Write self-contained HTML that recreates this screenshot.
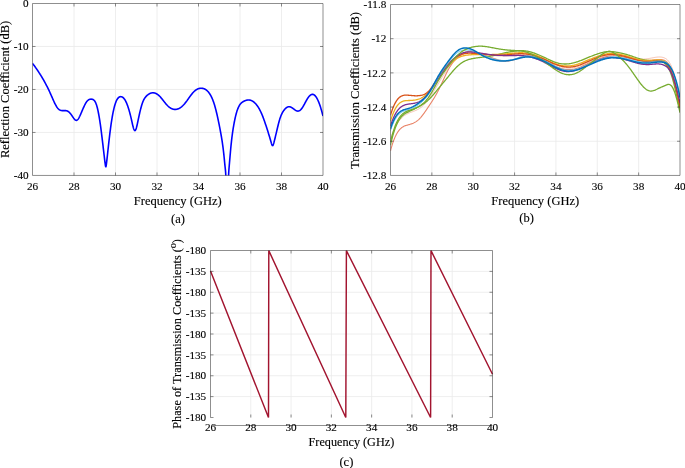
<!DOCTYPE html>
<html><head><meta charset="utf-8"><title>Figure</title>
<style>
html,body{margin:0;padding:0;background:#fff;}
svg{display:block;}
text{font-family:"Liberation Serif", "Times New Roman", serif;fill:#000;stroke:#000;stroke-width:0.12px;}
</style></head>
<body>
<svg width="685" height="468" viewBox="0 0 685 468">
<rect width="685" height="468" fill="#ffffff"/>
<line x1="74.00" y1="3.50" x2="74.00" y2="175.45" stroke="#eaeaea" stroke-width="0.8"/>
<line x1="115.50" y1="3.50" x2="115.50" y2="175.45" stroke="#eaeaea" stroke-width="0.8"/>
<line x1="157.00" y1="3.50" x2="157.00" y2="175.45" stroke="#eaeaea" stroke-width="0.8"/>
<line x1="198.50" y1="3.50" x2="198.50" y2="175.45" stroke="#eaeaea" stroke-width="0.8"/>
<line x1="240.00" y1="3.50" x2="240.00" y2="175.45" stroke="#eaeaea" stroke-width="0.8"/>
<line x1="281.50" y1="3.50" x2="281.50" y2="175.45" stroke="#eaeaea" stroke-width="0.8"/>
<line x1="32.50" y1="46.49" x2="323.00" y2="46.49" stroke="#eaeaea" stroke-width="0.8"/>
<line x1="32.50" y1="89.47" x2="323.00" y2="89.47" stroke="#eaeaea" stroke-width="0.8"/>
<line x1="32.50" y1="132.46" x2="323.00" y2="132.46" stroke="#eaeaea" stroke-width="0.8"/>
<clipPath id="ca"><rect x="32.5" y="3.5" width="290.5" height="171.95"/></clipPath>
<path d="M32.50,63.30 L32.74,63.62 L32.98,63.95 L33.23,64.27 L33.47,64.60 L33.71,64.92 L33.95,65.25 L34.20,65.58 L34.44,65.91 L34.68,66.25 L34.92,66.58 L35.17,66.92 L35.41,67.26 L35.65,67.60 L35.89,67.94 L36.13,68.29 L36.38,68.63 L36.62,68.98 L36.86,69.33 L37.10,69.68 L37.35,70.04 L37.59,70.40 L37.83,70.76 L38.07,71.12 L38.31,71.48 L38.56,71.85 L38.80,72.21 L39.04,72.58 L39.28,72.96 L39.53,73.33 L39.77,73.71 L40.01,74.09 L40.25,74.48 L40.50,74.86 L40.74,75.25 L40.98,75.64 L41.22,76.04 L41.46,76.43 L41.71,76.84 L41.95,77.24 L42.19,77.65 L42.43,78.05 L42.68,78.47 L42.92,78.88 L43.16,79.30 L43.40,79.72 L43.65,80.15 L43.89,80.58 L44.13,81.01 L44.37,81.45 L44.61,81.88 L44.86,82.33 L45.10,82.77 L45.34,83.22 L45.58,83.68 L45.83,84.13 L46.07,84.59 L46.31,85.06 L46.55,85.53 L46.79,86.00 L47.04,86.47 L47.28,86.95 L47.52,87.44 L47.76,87.93 L48.01,88.42 L48.25,88.91 L48.49,89.41 L48.73,89.92 L48.98,90.43 L49.22,90.94 L49.46,91.46 L49.70,91.98 L49.94,92.51 L50.19,93.04 L50.43,93.57 L50.67,94.11 L50.91,94.66 L51.16,95.20 L51.40,95.76 L51.64,96.31 L51.88,96.87 L52.13,97.42 L52.37,97.98 L52.61,98.53 L52.85,99.08 L53.09,99.63 L53.34,100.18 L53.58,100.72 L53.82,101.25 L54.06,101.77 L54.31,102.29 L54.55,102.80 L54.79,103.30 L55.03,103.79 L55.27,104.26 L55.52,104.73 L55.76,105.18 L56.00,105.61 L56.24,106.03 L56.49,106.44 L56.73,106.82 L56.97,107.19 L57.21,107.54 L57.46,107.87 L57.70,108.18 L57.94,108.46 L58.18,108.73 L58.42,108.97 L58.67,109.19 L58.91,109.39 L59.15,109.58 L59.39,109.74 L59.64,109.89 L59.88,110.02 L60.12,110.14 L60.36,110.24 L60.61,110.33 L60.85,110.40 L61.09,110.47 L61.33,110.52 L61.57,110.56 L61.82,110.59 L62.06,110.61 L62.30,110.63 L62.54,110.64 L62.79,110.64 L63.03,110.64 L63.27,110.63 L63.51,110.62 L63.75,110.61 L64.00,110.60 L64.24,110.59 L64.48,110.58 L64.72,110.58 L64.97,110.58 L65.21,110.59 L65.45,110.60 L65.69,110.62 L65.94,110.64 L66.18,110.68 L66.42,110.73 L66.66,110.79 L66.90,110.86 L67.15,110.95 L67.39,111.05 L67.63,111.17 L67.87,111.30 L68.12,111.45 L68.36,111.62 L68.60,111.80 L68.84,111.99 L69.09,112.21 L69.33,112.43 L69.57,112.67 L69.81,112.92 L70.05,113.19 L70.30,113.46 L70.54,113.75 L70.78,114.06 L71.02,114.37 L71.27,114.69 L71.51,115.03 L71.75,115.37 L71.99,115.73 L72.23,116.09 L72.48,116.45 L72.72,116.81 L72.96,117.18 L73.20,117.53 L73.45,117.88 L73.69,118.22 L73.93,118.54 L74.17,118.85 L74.42,119.13 L74.66,119.40 L74.90,119.63 L75.14,119.84 L75.38,120.02 L75.63,120.16 L75.87,120.27 L76.11,120.33 L76.35,120.35 L76.60,120.33 L76.84,120.25 L77.08,120.13 L77.32,119.96 L77.57,119.74 L77.81,119.49 L78.05,119.19 L78.29,118.86 L78.53,118.50 L78.78,118.10 L79.02,117.68 L79.26,117.22 L79.50,116.75 L79.75,116.25 L79.99,115.74 L80.23,115.21 L80.47,114.66 L80.71,114.11 L80.96,113.54 L81.20,112.97 L81.44,112.40 L81.68,111.83 L81.93,111.25 L82.17,110.68 L82.41,110.11 L82.65,109.54 L82.90,108.98 L83.14,108.42 L83.38,107.87 L83.62,107.33 L83.86,106.80 L84.11,106.28 L84.35,105.77 L84.59,105.27 L84.83,104.79 L85.08,104.32 L85.32,103.87 L85.56,103.43 L85.80,103.02 L86.05,102.62 L86.29,102.25 L86.53,101.89 L86.77,101.56 L87.01,101.26 L87.26,100.98 L87.50,100.72 L87.74,100.49 L87.98,100.28 L88.23,100.09 L88.47,99.92 L88.71,99.77 L88.95,99.64 L89.19,99.52 L89.44,99.43 L89.68,99.35 L89.92,99.28 L90.16,99.23 L90.41,99.20 L90.65,99.17 L90.89,99.16 L91.13,99.16 L91.38,99.17 L91.62,99.19 L91.86,99.22 L92.10,99.26 L92.34,99.31 L92.59,99.38 L92.83,99.46 L93.07,99.57 L93.31,99.70 L93.56,99.86 L93.80,100.05 L94.04,100.27 L94.28,100.52 L94.53,100.81 L94.77,101.15 L95.01,101.53 L95.25,101.95 L95.49,102.42 L95.74,102.95 L95.98,103.53 L96.22,104.16 L96.46,104.86 L96.71,105.62 L96.95,106.44 L97.19,107.33 L97.43,108.29 L97.67,109.30 L97.92,110.38 L98.16,111.53 L98.40,112.73 L98.64,114.00 L98.89,115.32 L99.13,116.70 L99.37,118.14 L99.61,119.64 L99.86,121.20 L100.10,122.81 L100.34,124.48 L100.58,126.20 L100.82,127.98 L101.07,129.81 L101.31,131.69 L101.55,133.61 L101.79,135.56 L102.04,137.55 L102.28,139.57 L102.52,141.60 L102.76,143.66 L103.01,145.72 L103.25,147.79 L103.49,149.86 L103.73,151.92 L103.97,153.98 L104.22,156.02 L104.46,158.05 L104.70,160.05 L104.94,162.04 L105.19,163.97 L105.43,165.62 L105.67,166.63 L105.91,166.69 L106.15,165.76 L106.40,164.14 L106.64,162.17 L106.88,160.08 L107.12,157.93 L107.37,155.72 L107.61,153.49 L107.85,151.25 L108.09,149.03 L108.34,146.81 L108.58,144.63 L108.82,142.46 L109.06,140.33 L109.30,138.24 L109.55,136.18 L109.79,134.17 L110.03,132.20 L110.27,130.29 L110.52,128.43 L110.76,126.63 L111.00,124.90 L111.24,123.23 L111.48,121.61 L111.73,120.06 L111.97,118.57 L112.21,117.13 L112.45,115.75 L112.70,114.43 L112.94,113.17 L113.18,111.96 L113.42,110.80 L113.67,109.70 L113.91,108.66 L114.15,107.66 L114.39,106.72 L114.63,105.83 L114.88,104.99 L115.12,104.20 L115.36,103.46 L115.60,102.77 L115.85,102.12 L116.09,101.52 L116.33,100.96 L116.57,100.44 L116.82,99.96 L117.06,99.52 L117.30,99.11 L117.54,98.75 L117.78,98.42 L118.03,98.12 L118.27,97.85 L118.51,97.62 L118.75,97.41 L119.00,97.23 L119.24,97.08 L119.48,96.96 L119.72,96.85 L119.96,96.77 L120.21,96.72 L120.45,96.68 L120.69,96.66 L120.93,96.66 L121.18,96.68 L121.42,96.73 L121.66,96.79 L121.90,96.87 L122.15,96.98 L122.39,97.11 L122.63,97.26 L122.87,97.43 L123.11,97.63 L123.36,97.84 L123.60,98.09 L123.84,98.35 L124.08,98.64 L124.33,98.95 L124.57,99.29 L124.81,99.65 L125.05,100.04 L125.30,100.46 L125.54,100.89 L125.78,101.36 L126.02,101.85 L126.26,102.37 L126.51,102.92 L126.75,103.49 L126.99,104.08 L127.23,104.71 L127.48,105.36 L127.72,106.03 L127.96,106.73 L128.20,107.46 L128.44,108.21 L128.69,108.99 L128.93,109.79 L129.17,110.62 L129.41,111.47 L129.66,112.35 L129.90,113.25 L130.14,114.18 L130.38,115.13 L130.63,116.11 L130.87,117.11 L131.11,118.14 L131.35,119.19 L131.59,120.26 L131.84,121.35 L132.08,122.44 L132.32,123.52 L132.56,124.56 L132.81,125.57 L133.05,126.52 L133.29,127.41 L133.53,128.22 L133.78,128.93 L134.02,129.53 L134.26,130.02 L134.50,130.36 L134.74,130.56 L134.99,130.60 L135.23,130.47 L135.47,130.18 L135.71,129.73 L135.96,129.15 L136.20,128.46 L136.44,127.65 L136.68,126.75 L136.92,125.77 L137.17,124.73 L137.41,123.64 L137.65,122.51 L137.89,121.35 L138.14,120.19 L138.38,119.02 L138.62,117.88 L138.86,116.75 L139.11,115.63 L139.35,114.54 L139.59,113.46 L139.83,112.41 L140.07,111.39 L140.32,110.39 L140.56,109.41 L140.80,108.47 L141.04,107.55 L141.29,106.67 L141.53,105.82 L141.77,105.01 L142.01,104.24 L142.26,103.50 L142.50,102.81 L142.74,102.15 L142.98,101.54 L143.22,100.97 L143.47,100.43 L143.71,99.93 L143.95,99.46 L144.19,99.02 L144.44,98.60 L144.68,98.22 L144.92,97.86 L145.16,97.52 L145.40,97.21 L145.65,96.91 L145.89,96.63 L146.13,96.37 L146.37,96.12 L146.62,95.88 L146.86,95.65 L147.10,95.43 L147.34,95.22 L147.59,95.01 L147.83,94.82 L148.07,94.63 L148.31,94.46 L148.55,94.29 L148.80,94.13 L149.04,93.98 L149.28,93.84 L149.52,93.71 L149.77,93.58 L150.01,93.47 L150.25,93.36 L150.49,93.27 L150.74,93.18 L150.98,93.10 L151.22,93.03 L151.46,92.97 L151.70,92.92 L151.95,92.88 L152.19,92.84 L152.43,92.82 L152.67,92.80 L152.92,92.80 L153.16,92.80 L153.40,92.81 L153.64,92.84 L153.88,92.87 L154.13,92.91 L154.37,92.95 L154.61,93.01 L154.85,93.08 L155.10,93.16 L155.34,93.24 L155.58,93.33 L155.82,93.44 L156.07,93.55 L156.31,93.67 L156.55,93.80 L156.79,93.94 L157.03,94.09 L157.28,94.24 L157.52,94.41 L157.76,94.58 L158.00,94.77 L158.25,94.96 L158.49,95.16 L158.73,95.37 L158.97,95.59 L159.22,95.81 L159.46,96.05 L159.70,96.29 L159.94,96.55 L160.18,96.81 L160.43,97.07 L160.67,97.35 L160.91,97.62 L161.15,97.91 L161.40,98.20 L161.64,98.49 L161.88,98.79 L162.12,99.09 L162.36,99.39 L162.61,99.69 L162.85,100.00 L163.09,100.31 L163.33,100.62 L163.58,100.93 L163.82,101.24 L164.06,101.55 L164.30,101.86 L164.55,102.16 L164.79,102.47 L165.03,102.77 L165.27,103.07 L165.51,103.37 L165.76,103.66 L166.00,103.95 L166.24,104.23 L166.48,104.51 L166.73,104.78 L166.97,105.04 L167.21,105.30 L167.45,105.55 L167.70,105.79 L167.94,106.03 L168.18,106.26 L168.42,106.48 L168.66,106.69 L168.91,106.89 L169.15,107.08 L169.39,107.27 L169.63,107.45 L169.88,107.62 L170.12,107.79 L170.36,107.94 L170.60,108.09 L170.84,108.23 L171.09,108.36 L171.33,108.49 L171.57,108.60 L171.81,108.71 L172.06,108.81 L172.30,108.91 L172.54,108.99 L172.78,109.07 L173.03,109.14 L173.27,109.20 L173.51,109.26 L173.75,109.31 L173.99,109.35 L174.24,109.38 L174.48,109.40 L174.72,109.42 L174.96,109.43 L175.21,109.43 L175.45,109.42 L175.69,109.41 L175.93,109.39 L176.18,109.36 L176.42,109.32 L176.66,109.28 L176.90,109.23 L177.14,109.17 L177.39,109.10 L177.63,109.03 L177.87,108.94 L178.11,108.85 L178.36,108.76 L178.60,108.65 L178.84,108.54 L179.08,108.42 L179.32,108.30 L179.57,108.16 L179.81,108.02 L180.05,107.87 L180.29,107.72 L180.54,107.55 L180.78,107.38 L181.02,107.21 L181.26,107.02 L181.51,106.83 L181.75,106.63 L181.99,106.42 L182.23,106.21 L182.47,105.99 L182.72,105.76 L182.96,105.52 L183.20,105.28 L183.44,105.03 L183.69,104.77 L183.93,104.51 L184.17,104.23 L184.41,103.95 L184.66,103.67 L184.90,103.38 L185.14,103.08 L185.38,102.77 L185.62,102.47 L185.87,102.15 L186.11,101.83 L186.35,101.51 L186.59,101.19 L186.84,100.86 L187.08,100.52 L187.32,100.19 L187.56,99.85 L187.80,99.52 L188.05,99.18 L188.29,98.84 L188.53,98.50 L188.77,98.16 L189.02,97.82 L189.26,97.48 L189.50,97.14 L189.74,96.81 L189.99,96.47 L190.23,96.14 L190.47,95.81 L190.71,95.49 L190.95,95.17 L191.20,94.85 L191.44,94.54 L191.68,94.23 L191.92,93.92 L192.17,93.63 L192.41,93.34 L192.65,93.05 L192.89,92.77 L193.14,92.50 L193.38,92.24 L193.62,91.98 L193.86,91.74 L194.10,91.50 L194.35,91.27 L194.59,91.05 L194.83,90.84 L195.07,90.64 L195.32,90.44 L195.56,90.26 L195.80,90.08 L196.04,89.91 L196.28,89.75 L196.53,89.60 L196.77,89.46 L197.01,89.32 L197.25,89.20 L197.50,89.08 L197.74,88.97 L197.98,88.86 L198.22,88.77 L198.47,88.68 L198.71,88.60 L198.95,88.53 L199.19,88.47 L199.43,88.41 L199.68,88.37 L199.92,88.32 L200.16,88.29 L200.40,88.27 L200.65,88.25 L200.89,88.24 L201.13,88.23 L201.37,88.24 L201.62,88.25 L201.86,88.26 L202.10,88.29 L202.34,88.32 L202.58,88.36 L202.83,88.40 L203.07,88.46 L203.31,88.52 L203.55,88.59 L203.80,88.67 L204.04,88.75 L204.28,88.85 L204.52,88.95 L204.76,89.06 L205.01,89.19 L205.25,89.32 L205.49,89.46 L205.73,89.62 L205.98,89.78 L206.22,89.96 L206.46,90.14 L206.70,90.34 L206.95,90.55 L207.19,90.77 L207.43,91.00 L207.67,91.25 L207.91,91.51 L208.16,91.78 L208.40,92.06 L208.64,92.36 L208.88,92.67 L209.13,93.00 L209.37,93.34 L209.61,93.69 L209.85,94.06 L210.10,94.45 L210.34,94.85 L210.58,95.27 L210.82,95.70 L211.06,96.16 L211.31,96.63 L211.55,97.13 L211.79,97.64 L212.03,98.17 L212.28,98.73 L212.52,99.31 L212.76,99.91 L213.00,100.53 L213.24,101.18 L213.49,101.85 L213.73,102.55 L213.97,103.27 L214.21,104.02 L214.46,104.79 L214.70,105.59 L214.94,106.43 L215.18,107.28 L215.43,108.17 L215.67,109.08 L215.91,110.01 L216.15,110.98 L216.39,111.96 L216.64,112.97 L216.88,114.00 L217.12,115.05 L217.36,116.13 L217.61,117.22 L217.85,118.34 L218.09,119.47 L218.33,120.63 L218.58,121.80 L218.82,122.99 L219.06,124.19 L219.30,125.41 L219.54,126.65 L219.79,127.90 L220.03,129.17 L220.27,130.45 L220.51,131.74 L220.76,133.05 L221.00,134.39 L221.24,135.76 L221.48,137.17 L221.72,138.63 L221.97,140.14 L222.21,141.71 L222.45,143.36 L222.69,145.07 L222.94,146.88 L223.18,148.77 L223.42,150.77 L223.66,152.88 L223.91,155.11 L224.15,157.47 L224.39,159.95 L224.63,162.46 L224.87,164.92 L225.12,167.25 L225.36,169.41 L225.60,171.95 L225.84,175.81 L226.09,181.63 L226.33,187.51 L226.57,190.42 L226.81,196.62 L227.06,226.32 L227.30,233.10 L227.54,200.10 L227.78,190.73 L228.02,188.46 L228.27,183.03 L228.51,176.79 L228.75,171.99 L228.99,168.51 L229.24,165.71 L229.48,162.99 L229.72,160.18 L229.96,157.33 L230.20,154.48 L230.45,151.70 L230.69,149.03 L230.93,146.50 L231.17,144.11 L231.42,141.84 L231.66,139.70 L231.90,137.67 L232.14,135.75 L232.39,133.92 L232.63,132.19 L232.87,130.54 L233.11,128.96 L233.35,127.46 L233.60,126.02 L233.84,124.63 L234.08,123.30 L234.32,122.02 L234.57,120.79 L234.81,119.61 L235.05,118.48 L235.29,117.40 L235.54,116.37 L235.78,115.38 L236.02,114.44 L236.26,113.54 L236.50,112.68 L236.75,111.87 L236.99,111.10 L237.23,110.37 L237.47,109.67 L237.72,109.02 L237.96,108.40 L238.20,107.82 L238.44,107.28 L238.68,106.76 L238.93,106.28 L239.17,105.83 L239.41,105.41 L239.65,105.02 L239.90,104.66 L240.14,104.32 L240.38,104.00 L240.62,103.71 L240.87,103.43 L241.11,103.18 L241.35,102.95 L241.59,102.73 L241.83,102.53 L242.08,102.34 L242.32,102.16 L242.56,102.00 L242.80,101.85 L243.05,101.70 L243.29,101.57 L243.53,101.44 L243.77,101.31 L244.02,101.19 L244.26,101.07 L244.50,100.96 L244.74,100.85 L244.98,100.75 L245.23,100.65 L245.47,100.56 L245.71,100.48 L245.95,100.40 L246.20,100.33 L246.44,100.26 L246.68,100.20 L246.92,100.14 L247.16,100.10 L247.41,100.06 L247.65,100.02 L247.89,100.00 L248.13,99.98 L248.38,99.97 L248.62,99.97 L248.86,99.98 L249.10,99.99 L249.35,100.02 L249.59,100.05 L249.83,100.09 L250.07,100.14 L250.31,100.20 L250.56,100.26 L250.80,100.34 L251.04,100.42 L251.28,100.52 L251.53,100.62 L251.77,100.73 L252.01,100.85 L252.25,100.98 L252.49,101.12 L252.74,101.27 L252.98,101.42 L253.22,101.59 L253.46,101.76 L253.71,101.95 L253.95,102.14 L254.19,102.34 L254.43,102.56 L254.68,102.78 L254.92,103.01 L255.16,103.25 L255.40,103.50 L255.64,103.76 L255.89,104.03 L256.13,104.31 L256.37,104.60 L256.61,104.90 L256.86,105.21 L257.10,105.53 L257.34,105.86 L257.58,106.21 L257.83,106.56 L258.07,106.93 L258.31,107.31 L258.55,107.70 L258.79,108.10 L259.04,108.51 L259.28,108.94 L259.52,109.38 L259.76,109.83 L260.01,110.29 L260.25,110.77 L260.49,111.26 L260.73,111.76 L260.97,112.28 L261.22,112.80 L261.46,113.35 L261.70,113.90 L261.94,114.47 L262.19,115.06 L262.43,115.66 L262.67,116.27 L262.91,116.89 L263.16,117.52 L263.40,118.16 L263.64,118.82 L263.88,119.48 L264.12,120.16 L264.37,120.84 L264.61,121.53 L264.85,122.23 L265.09,122.94 L265.34,123.66 L265.58,124.38 L265.82,125.11 L266.06,125.84 L266.31,126.58 L266.55,127.32 L266.79,128.07 L267.03,128.82 L267.27,129.58 L267.52,130.34 L267.76,131.10 L268.00,131.86 L268.24,132.63 L268.49,133.40 L268.73,134.18 L268.97,134.96 L269.21,135.75 L269.45,136.55 L269.70,137.35 L269.94,138.17 L270.18,138.99 L270.42,139.83 L270.67,140.67 L270.91,141.53 L271.15,142.39 L271.39,143.23 L271.64,144.00 L271.88,144.66 L272.12,145.17 L272.36,145.50 L272.60,145.60 L272.85,145.45 L273.09,145.07 L273.33,144.50 L273.57,143.78 L273.82,142.95 L274.06,142.05 L274.30,141.11 L274.54,140.15 L274.79,139.18 L275.03,138.19 L275.27,137.20 L275.51,136.19 L275.75,135.18 L276.00,134.16 L276.24,133.13 L276.48,132.10 L276.72,131.07 L276.97,130.04 L277.21,129.01 L277.45,127.99 L277.69,126.98 L277.93,125.98 L278.18,125.00 L278.42,124.04 L278.66,123.10 L278.90,122.18 L279.15,121.30 L279.39,120.45 L279.63,119.63 L279.87,118.85 L280.12,118.10 L280.36,117.39 L280.60,116.72 L280.84,116.08 L281.08,115.48 L281.33,114.90 L281.57,114.35 L281.81,113.83 L282.05,113.34 L282.30,112.88 L282.54,112.44 L282.78,112.02 L283.02,111.62 L283.27,111.24 L283.51,110.88 L283.75,110.54 L283.99,110.22 L284.23,109.90 L284.48,109.61 L284.72,109.32 L284.96,109.05 L285.20,108.79 L285.45,108.55 L285.69,108.31 L285.93,108.10 L286.17,107.89 L286.41,107.71 L286.66,107.53 L286.90,107.37 L287.14,107.23 L287.38,107.11 L287.63,107.00 L287.87,106.90 L288.11,106.83 L288.35,106.77 L288.60,106.73 L288.84,106.70 L289.08,106.70 L289.32,106.71 L289.56,106.74 L289.81,106.79 L290.05,106.85 L290.29,106.92 L290.53,107.01 L290.78,107.11 L291.02,107.22 L291.26,107.34 L291.50,107.48 L291.75,107.62 L291.99,107.77 L292.23,107.92 L292.47,108.09 L292.71,108.25 L292.96,108.43 L293.20,108.60 L293.44,108.78 L293.68,108.96 L293.93,109.14 L294.17,109.33 L294.41,109.50 L294.65,109.68 L294.89,109.85 L295.14,110.02 L295.38,110.18 L295.62,110.33 L295.86,110.47 L296.11,110.60 L296.35,110.72 L296.59,110.82 L296.83,110.91 L297.08,110.99 L297.32,111.04 L297.56,111.08 L297.80,111.10 L298.04,111.10 L298.29,111.07 L298.53,111.03 L298.77,110.96 L299.01,110.87 L299.26,110.76 L299.50,110.64 L299.74,110.49 L299.98,110.32 L300.23,110.13 L300.47,109.92 L300.71,109.70 L300.95,109.45 L301.19,109.18 L301.44,108.90 L301.68,108.59 L301.92,108.27 L302.16,107.93 L302.41,107.57 L302.65,107.20 L302.89,106.81 L303.13,106.41 L303.37,106.00 L303.62,105.57 L303.86,105.14 L304.10,104.70 L304.34,104.26 L304.59,103.81 L304.83,103.36 L305.07,102.91 L305.31,102.45 L305.56,102.00 L305.80,101.55 L306.04,101.11 L306.28,100.67 L306.52,100.24 L306.77,99.82 L307.01,99.40 L307.25,99.00 L307.49,98.61 L307.74,98.23 L307.98,97.87 L308.22,97.53 L308.46,97.20 L308.71,96.88 L308.95,96.58 L309.19,96.30 L309.43,96.04 L309.67,95.79 L309.92,95.56 L310.16,95.35 L310.40,95.16 L310.64,94.98 L310.89,94.83 L311.13,94.70 L311.37,94.59 L311.61,94.49 L311.85,94.43 L312.10,94.38 L312.34,94.35 L312.58,94.35 L312.82,94.37 L313.07,94.41 L313.31,94.48 L313.55,94.57 L313.79,94.69 L314.04,94.83 L314.28,94.99 L314.52,95.18 L314.76,95.39 L315.00,95.62 L315.25,95.88 L315.49,96.16 L315.73,96.47 L315.97,96.79 L316.22,97.14 L316.46,97.52 L316.70,97.91 L316.94,98.33 L317.19,98.78 L317.43,99.24 L317.67,99.73 L317.91,100.24 L318.15,100.77 L318.40,101.33 L318.64,101.91 L318.88,102.51 L319.12,103.13 L319.37,103.78 L319.61,104.44 L319.85,105.13 L320.09,105.85 L320.33,106.58 L320.58,107.34 L320.82,108.12 L321.06,108.92 L321.30,109.74 L321.55,110.58 L321.79,111.45 L322.03,112.34 L322.27,113.24 L322.52,114.17 L322.76,115.13 L323.00,116.10" stroke="#0000ff" stroke-width="1.6" fill="none" stroke-linejoin="round" clip-path="url(#ca)"/>
<path d="M32.50,175.45 L32.50,3.50 L323.00,3.50 L323.00,175.45" stroke="#262626" stroke-width="0.52" fill="none"/>
<line x1="32.50" y1="175.45" x2="323.00" y2="175.45" stroke="#262626" stroke-width="0.52" fill="none"/>
<line x1="74.00" y1="175.45" x2="74.00" y2="172.45" stroke="#262626" stroke-width="0.52" fill="none"/>
<line x1="74.00" y1="3.50" x2="74.00" y2="6.50" stroke="#262626" stroke-width="0.52" fill="none"/>
<line x1="115.50" y1="175.45" x2="115.50" y2="172.45" stroke="#262626" stroke-width="0.52" fill="none"/>
<line x1="115.50" y1="3.50" x2="115.50" y2="6.50" stroke="#262626" stroke-width="0.52" fill="none"/>
<line x1="157.00" y1="175.45" x2="157.00" y2="172.45" stroke="#262626" stroke-width="0.52" fill="none"/>
<line x1="157.00" y1="3.50" x2="157.00" y2="6.50" stroke="#262626" stroke-width="0.52" fill="none"/>
<line x1="198.50" y1="175.45" x2="198.50" y2="172.45" stroke="#262626" stroke-width="0.52" fill="none"/>
<line x1="198.50" y1="3.50" x2="198.50" y2="6.50" stroke="#262626" stroke-width="0.52" fill="none"/>
<line x1="240.00" y1="175.45" x2="240.00" y2="172.45" stroke="#262626" stroke-width="0.52" fill="none"/>
<line x1="240.00" y1="3.50" x2="240.00" y2="6.50" stroke="#262626" stroke-width="0.52" fill="none"/>
<line x1="281.50" y1="175.45" x2="281.50" y2="172.45" stroke="#262626" stroke-width="0.52" fill="none"/>
<line x1="281.50" y1="3.50" x2="281.50" y2="6.50" stroke="#262626" stroke-width="0.52" fill="none"/>
<line x1="32.50" y1="46.49" x2="35.50" y2="46.49" stroke="#262626" stroke-width="0.52" fill="none"/>
<line x1="323.00" y1="46.49" x2="320.00" y2="46.49" stroke="#262626" stroke-width="0.52" fill="none"/>
<line x1="32.50" y1="89.47" x2="35.50" y2="89.47" stroke="#262626" stroke-width="0.52" fill="none"/>
<line x1="323.00" y1="89.47" x2="320.00" y2="89.47" stroke="#262626" stroke-width="0.52" fill="none"/>
<line x1="32.50" y1="132.46" x2="35.50" y2="132.46" stroke="#262626" stroke-width="0.52" fill="none"/>
<line x1="323.00" y1="132.46" x2="320.00" y2="132.46" stroke="#262626" stroke-width="0.52" fill="none"/>
<text x="32.50" y="189.50" font-size="11.2" text-anchor="middle">26</text>
<text x="74.00" y="189.50" font-size="11.2" text-anchor="middle">28</text>
<text x="115.50" y="189.50" font-size="11.2" text-anchor="middle">30</text>
<text x="157.00" y="189.50" font-size="11.2" text-anchor="middle">32</text>
<text x="198.50" y="189.50" font-size="11.2" text-anchor="middle">34</text>
<text x="240.00" y="189.50" font-size="11.2" text-anchor="middle">36</text>
<text x="281.50" y="189.50" font-size="11.2" text-anchor="middle">38</text>
<text x="323.00" y="189.50" font-size="11.2" text-anchor="middle">40</text>
<text x="28.60" y="7.20" font-size="11.2" text-anchor="end">0</text>
<text x="28.60" y="50.19" font-size="11.2" text-anchor="end">-10</text>
<text x="28.60" y="93.17" font-size="11.2" text-anchor="end">-20</text>
<text x="28.60" y="136.16" font-size="11.2" text-anchor="end">-30</text>
<text x="28.60" y="179.15" font-size="11.2" text-anchor="end">-40</text>
<text x="177.75" y="204.90" font-size="12.5" text-anchor="middle">Frequency (GHz)</text>
<text x="178.00" y="222.60" font-size="12.5" text-anchor="middle">(a)</text>
<text x="9.00" y="89.47" font-size="12.5" text-anchor="middle" transform="rotate(-90 9.00 89.47)">Reflection Coefficient (dB)</text>
<line x1="431.86" y1="4.50" x2="431.86" y2="175.45" stroke="#eaeaea" stroke-width="0.8"/>
<line x1="473.21" y1="4.50" x2="473.21" y2="175.45" stroke="#eaeaea" stroke-width="0.8"/>
<line x1="514.57" y1="4.50" x2="514.57" y2="175.45" stroke="#eaeaea" stroke-width="0.8"/>
<line x1="555.93" y1="4.50" x2="555.93" y2="175.45" stroke="#eaeaea" stroke-width="0.8"/>
<line x1="597.29" y1="4.50" x2="597.29" y2="175.45" stroke="#eaeaea" stroke-width="0.8"/>
<line x1="638.64" y1="4.50" x2="638.64" y2="175.45" stroke="#eaeaea" stroke-width="0.8"/>
<line x1="390.50" y1="38.69" x2="680.00" y2="38.69" stroke="#eaeaea" stroke-width="0.8"/>
<line x1="390.50" y1="72.88" x2="680.00" y2="72.88" stroke="#eaeaea" stroke-width="0.8"/>
<line x1="390.50" y1="107.07" x2="680.00" y2="107.07" stroke="#eaeaea" stroke-width="0.8"/>
<line x1="390.50" y1="141.26" x2="680.00" y2="141.26" stroke="#eaeaea" stroke-width="0.8"/>
<clipPath id="cb"><rect x="390.5" y="4.5" width="289.5" height="170.95"/></clipPath>
<path d="M390.50,150.80 L391.08,148.63 L391.66,146.59 L392.24,144.68 L392.82,142.90 L393.40,141.23 L393.98,139.68 L394.56,138.23 L395.14,136.89 L395.72,135.66 L396.30,134.51 L396.88,133.46 L397.46,132.50 L398.04,131.62 L398.62,130.81 L399.20,130.08 L399.78,129.42 L400.36,128.83 L400.94,128.29 L401.52,127.81 L402.10,127.39 L402.68,127.01 L403.26,126.67 L403.84,126.36 L404.42,126.10 L405.00,125.86 L405.58,125.64 L406.16,125.45 L406.74,125.27 L407.32,125.10 L407.90,124.94 L408.48,124.78 L409.07,124.61 L409.65,124.44 L410.23,124.26 L410.81,124.07 L411.39,123.87 L411.97,123.66 L412.55,123.42 L413.13,123.17 L413.71,122.90 L414.29,122.61 L414.87,122.30 L415.45,121.96 L416.03,121.59 L416.61,121.20 L417.19,120.78 L417.77,120.32 L418.35,119.83 L418.93,119.30 L419.51,118.74 L420.09,118.14 L420.67,117.51 L421.25,116.84 L421.83,116.14 L422.41,115.41 L422.99,114.65 L423.57,113.88 L424.15,113.08 L424.73,112.26 L425.31,111.43 L425.89,110.58 L426.47,109.73 L427.05,108.86 L427.63,107.99 L428.21,107.12 L428.79,106.25 L429.37,105.38 L429.95,104.50 L430.53,103.63 L431.11,102.75 L431.69,101.86 L432.27,100.96 L432.85,100.05 L433.43,99.13 L434.01,98.19 L434.59,97.24 L435.17,96.26 L435.75,95.26 L436.33,94.23 L436.91,93.18 L437.49,92.09 L438.07,90.98 L438.65,89.83 L439.23,88.65 L439.81,87.44 L440.39,86.22 L440.97,84.98 L441.55,83.72 L442.13,82.46 L442.71,81.19 L443.29,79.93 L443.87,78.67 L444.45,77.42 L445.04,76.18 L445.62,74.96 L446.20,73.76 L446.78,72.59 L447.36,71.46 L447.94,70.35 L448.52,69.29 L449.10,68.27 L449.68,67.29 L450.26,66.36 L450.84,65.46 L451.42,64.60 L452.00,63.77 L452.58,62.98 L453.16,62.23 L453.74,61.50 L454.32,60.81 L454.90,60.15 L455.48,59.51 L456.06,58.90 L456.64,58.31 L457.22,57.75 L457.80,57.21 L458.38,56.70 L458.96,56.20 L459.54,55.73 L460.12,55.27 L460.70,54.84 L461.28,54.44 L461.86,54.05 L462.44,53.69 L463.02,53.35 L463.60,53.04 L464.18,52.75 L464.76,52.48 L465.34,52.24 L465.92,52.02 L466.50,51.83 L467.08,51.66 L467.66,51.52 L468.24,51.40 L468.82,51.30 L469.40,51.23 L469.98,51.18 L470.56,51.15 L471.14,51.15 L471.72,51.17 L472.30,51.21 L472.88,51.27 L473.46,51.35 L474.04,51.46 L474.62,51.58 L475.20,51.73 L475.78,51.89 L476.36,52.06 L476.94,52.25 L477.52,52.45 L478.10,52.66 L478.68,52.88 L479.26,53.11 L479.84,53.34 L480.42,53.57 L481.01,53.81 L481.59,54.04 L482.17,54.27 L482.75,54.50 L483.33,54.72 L483.91,54.95 L484.49,55.17 L485.07,55.39 L485.65,55.60 L486.23,55.82 L486.81,56.03 L487.39,56.24 L487.97,56.45 L488.55,56.66 L489.13,56.86 L489.71,57.07 L490.29,57.27 L490.87,57.47 L491.45,57.67 L492.03,57.87 L492.61,58.07 L493.19,58.26 L493.77,58.46 L494.35,58.65 L494.93,58.85 L495.51,59.04 L496.09,59.22 L496.67,59.40 L497.25,59.58 L497.83,59.75 L498.41,59.92 L498.99,60.08 L499.57,60.22 L500.15,60.36 L500.73,60.49 L501.31,60.61 L501.89,60.71 L502.47,60.81 L503.05,60.89 L503.63,60.95 L504.21,61.00 L504.79,61.03 L505.37,61.05 L505.95,61.05 L506.53,61.03 L507.11,61.00 L507.69,60.96 L508.27,60.90 L508.85,60.83 L509.43,60.75 L510.01,60.65 L510.59,60.54 L511.17,60.42 L511.75,60.29 L512.33,60.15 L512.91,59.99 L513.49,59.83 L514.07,59.66 L514.65,59.47 L515.23,59.28 L515.81,59.08 L516.39,58.88 L516.97,58.67 L517.56,58.46 L518.14,58.25 L518.72,58.04 L519.30,57.83 L519.88,57.62 L520.46,57.42 L521.04,57.22 L521.62,57.03 L522.20,56.85 L522.78,56.69 L523.36,56.53 L523.94,56.39 L524.52,56.26 L525.10,56.15 L525.68,56.06 L526.26,55.99 L526.84,55.94 L527.42,55.91 L528.00,55.89 L528.58,55.90 L529.16,55.92 L529.74,55.96 L530.32,56.02 L530.90,56.09 L531.48,56.17 L532.06,56.27 L532.64,56.38 L533.22,56.50 L533.80,56.63 L534.38,56.77 L534.96,56.92 L535.54,57.08 L536.12,57.24 L536.70,57.42 L537.28,57.60 L537.86,57.78 L538.44,57.98 L539.02,58.18 L539.60,58.39 L540.18,58.61 L540.76,58.83 L541.34,59.06 L541.92,59.30 L542.50,59.55 L543.08,59.81 L543.66,60.07 L544.24,60.34 L544.82,60.62 L545.40,60.91 L545.98,61.20 L546.56,61.50 L547.14,61.81 L547.72,62.12 L548.30,62.44 L548.88,62.76 L549.46,63.08 L550.04,63.41 L550.62,63.73 L551.20,64.05 L551.78,64.37 L552.36,64.69 L552.94,65.00 L553.53,65.31 L554.11,65.61 L554.69,65.90 L555.27,66.19 L555.85,66.46 L556.43,66.73 L557.01,66.98 L557.59,67.23 L558.17,67.46 L558.75,67.68 L559.33,67.89 L559.91,68.09 L560.49,68.28 L561.07,68.45 L561.65,68.62 L562.23,68.77 L562.81,68.91 L563.39,69.04 L563.97,69.16 L564.55,69.26 L565.13,69.36 L565.71,69.44 L566.29,69.50 L566.87,69.56 L567.45,69.60 L568.03,69.63 L568.61,69.64 L569.19,69.65 L569.77,69.63 L570.35,69.61 L570.93,69.57 L571.51,69.52 L572.09,69.46 L572.67,69.38 L573.25,69.29 L573.83,69.19 L574.41,69.07 L574.99,68.94 L575.57,68.79 L576.15,68.63 L576.73,68.46 L577.31,68.27 L577.89,68.07 L578.47,67.86 L579.05,67.64 L579.63,67.41 L580.21,67.17 L580.79,66.91 L581.37,66.66 L581.95,66.39 L582.53,66.12 L583.11,65.85 L583.69,65.57 L584.27,65.29 L584.85,65.01 L585.43,64.73 L586.01,64.45 L586.59,64.17 L587.17,63.89 L587.75,63.62 L588.33,63.34 L588.91,63.07 L589.49,62.81 L590.08,62.54 L590.66,62.28 L591.24,62.02 L591.82,61.77 L592.40,61.51 L592.98,61.26 L593.56,61.02 L594.14,60.77 L594.72,60.53 L595.30,60.29 L595.88,60.06 L596.46,59.83 L597.04,59.60 L597.62,59.37 L598.20,59.15 L598.78,58.93 L599.36,58.72 L599.94,58.51 L600.52,58.30 L601.10,58.10 L601.68,57.91 L602.26,57.72 L602.84,57.54 L603.42,57.36 L604.00,57.19 L604.58,57.03 L605.16,56.88 L605.74,56.74 L606.32,56.60 L606.90,56.47 L607.48,56.36 L608.06,56.25 L608.64,56.15 L609.22,56.06 L609.80,55.99 L610.38,55.92 L610.96,55.87 L611.54,55.82 L612.12,55.79 L612.70,55.77 L613.28,55.76 L613.86,55.75 L614.44,55.76 L615.02,55.78 L615.60,55.80 L616.18,55.84 L616.76,55.88 L617.34,55.93 L617.92,56.00 L618.50,56.06 L619.08,56.14 L619.66,56.23 L620.24,56.32 L620.82,56.41 L621.40,56.52 L621.98,56.63 L622.56,56.74 L623.14,56.86 L623.72,56.98 L624.30,57.10 L624.88,57.23 L625.46,57.36 L626.05,57.49 L626.63,57.62 L627.21,57.75 L627.79,57.88 L628.37,58.01 L628.95,58.14 L629.53,58.27 L630.11,58.40 L630.69,58.53 L631.27,58.65 L631.85,58.78 L632.43,58.90 L633.01,59.02 L633.59,59.13 L634.17,59.24 L634.75,59.35 L635.33,59.46 L635.91,59.56 L636.49,59.66 L637.07,59.76 L637.65,59.85 L638.23,59.94 L638.81,60.02 L639.39,60.10 L639.97,60.18 L640.55,60.24 L641.13,60.31 L641.71,60.37 L642.29,60.42 L642.87,60.46 L643.45,60.50 L644.03,60.53 L644.61,60.56 L645.19,60.58 L645.77,60.59 L646.35,60.59 L646.93,60.59 L647.51,60.57 L648.09,60.55 L648.67,60.52 L649.25,60.48 L649.83,60.43 L650.41,60.38 L650.99,60.32 L651.57,60.25 L652.15,60.18 L652.73,60.11 L653.31,60.03 L653.89,59.96 L654.47,59.89 L655.05,59.82 L655.63,59.75 L656.21,59.69 L656.79,59.64 L657.37,59.59 L657.95,59.55 L658.53,59.52 L659.11,59.50 L659.69,59.50 L660.27,59.51 L660.85,59.54 L661.43,59.59 L662.02,59.67 L662.60,59.79 L663.18,59.94 L663.76,60.13 L664.34,60.36 L664.92,60.65 L665.50,60.98 L666.08,61.38 L666.66,61.84 L667.24,62.37 L667.82,62.99 L668.40,63.70 L668.98,64.51 L669.56,65.43 L670.14,66.47 L670.72,67.63 L671.30,68.94 L671.88,70.39 L672.46,71.99 L673.04,73.73 L673.62,75.60 L674.20,77.61 L674.78,79.73 L675.36,81.97 L675.94,84.31 L676.52,86.75 L677.10,89.27 L677.68,91.88 L678.26,94.57 L678.84,97.32 L679.42,100.14 L680.00,103.00" stroke="#e98468" stroke-width="1.1" fill="none" clip-path="url(#cb)"/>
<path d="M390.50,139.00 L391.08,137.30 L391.66,135.68 L392.24,134.13 L392.82,132.66 L393.40,131.26 L393.98,129.93 L394.56,128.67 L395.14,127.47 L395.72,126.34 L396.30,125.27 L396.88,124.26 L397.46,123.31 L398.04,122.41 L398.62,121.57 L399.20,120.77 L399.78,120.03 L400.36,119.33 L400.94,118.68 L401.52,118.07 L402.10,117.50 L402.68,116.96 L403.26,116.47 L403.84,116.01 L404.42,115.58 L405.00,115.17 L405.58,114.80 L406.16,114.45 L406.74,114.13 L407.32,113.83 L407.90,113.54 L408.48,113.27 L409.07,113.02 L409.65,112.78 L410.23,112.55 L410.81,112.33 L411.39,112.11 L411.97,111.90 L412.55,111.69 L413.13,111.47 L413.71,111.26 L414.29,111.04 L414.87,110.81 L415.45,110.57 L416.03,110.33 L416.61,110.06 L417.19,109.78 L417.77,109.49 L418.35,109.17 L418.93,108.83 L419.51,108.46 L420.09,108.07 L420.67,107.65 L421.25,107.20 L421.83,106.73 L422.41,106.23 L422.99,105.70 L423.57,105.15 L424.15,104.57 L424.73,103.96 L425.31,103.32 L425.89,102.66 L426.47,101.97 L427.05,101.26 L427.63,100.52 L428.21,99.75 L428.79,98.95 L429.37,98.13 L429.95,97.28 L430.53,96.41 L431.11,95.52 L431.69,94.61 L432.27,93.69 L432.85,92.75 L433.43,91.80 L434.01,90.83 L434.59,89.86 L435.17,88.89 L435.75,87.90 L436.33,86.92 L436.91,85.94 L437.49,84.96 L438.07,83.98 L438.65,83.01 L439.23,82.04 L439.81,81.08 L440.39,80.13 L440.97,79.19 L441.55,78.25 L442.13,77.33 L442.71,76.41 L443.29,75.50 L443.87,74.60 L444.45,73.72 L445.04,72.84 L445.62,71.98 L446.20,71.12 L446.78,70.28 L447.36,69.46 L447.94,68.64 L448.52,67.84 L449.10,67.05 L449.68,66.28 L450.26,65.53 L450.84,64.79 L451.42,64.07 L452.00,63.36 L452.58,62.67 L453.16,62.01 L453.74,61.36 L454.32,60.73 L454.90,60.12 L455.48,59.54 L456.06,58.97 L456.64,58.43 L457.22,57.92 L457.80,57.42 L458.38,56.95 L458.96,56.51 L459.54,56.09 L460.12,55.70 L460.70,55.32 L461.28,54.98 L461.86,54.65 L462.44,54.35 L463.02,54.07 L463.60,53.82 L464.18,53.58 L464.76,53.37 L465.34,53.18 L465.92,53.01 L466.50,52.87 L467.08,52.74 L467.66,52.64 L468.24,52.55 L468.82,52.48 L469.40,52.43 L469.98,52.39 L470.56,52.37 L471.14,52.36 L471.72,52.37 L472.30,52.38 L472.88,52.41 L473.46,52.44 L474.04,52.48 L474.62,52.53 L475.20,52.59 L475.78,52.65 L476.36,52.72 L476.94,52.80 L477.52,52.87 L478.10,52.96 L478.68,53.04 L479.26,53.13 L479.84,53.23 L480.42,53.32 L481.01,53.42 L481.59,53.52 L482.17,53.62 L482.75,53.72 L483.33,53.82 L483.91,53.92 L484.49,54.02 L485.07,54.12 L485.65,54.23 L486.23,54.33 L486.81,54.43 L487.39,54.53 L487.97,54.62 L488.55,54.72 L489.13,54.81 L489.71,54.91 L490.29,55.00 L490.87,55.09 L491.45,55.17 L492.03,55.26 L492.61,55.34 L493.19,55.41 L493.77,55.48 L494.35,55.55 L494.93,55.62 L495.51,55.68 L496.09,55.74 L496.67,55.79 L497.25,55.84 L497.83,55.88 L498.41,55.92 L498.99,55.95 L499.57,55.98 L500.15,56.00 L500.73,56.02 L501.31,56.03 L501.89,56.04 L502.47,56.04 L503.05,56.03 L503.63,56.02 L504.21,56.00 L504.79,55.98 L505.37,55.94 L505.95,55.91 L506.53,55.86 L507.11,55.82 L507.69,55.76 L508.27,55.71 L508.85,55.65 L509.43,55.59 L510.01,55.53 L510.59,55.46 L511.17,55.39 L511.75,55.32 L512.33,55.26 L512.91,55.19 L513.49,55.12 L514.07,55.06 L514.65,54.99 L515.23,54.93 L515.81,54.87 L516.39,54.81 L516.97,54.76 L517.56,54.70 L518.14,54.66 L518.72,54.61 L519.30,54.57 L519.88,54.53 L520.46,54.50 L521.04,54.48 L521.62,54.46 L522.20,54.44 L522.78,54.43 L523.36,54.43 L523.94,54.43 L524.52,54.44 L525.10,54.45 L525.68,54.48 L526.26,54.51 L526.84,54.54 L527.42,54.59 L528.00,54.64 L528.58,54.71 L529.16,54.78 L529.74,54.85 L530.32,54.94 L530.90,55.03 L531.48,55.13 L532.06,55.24 L532.64,55.36 L533.22,55.49 L533.80,55.62 L534.38,55.77 L534.96,55.92 L535.54,56.08 L536.12,56.25 L536.70,56.43 L537.28,56.61 L537.86,56.81 L538.44,57.01 L539.02,57.21 L539.60,57.43 L540.18,57.65 L540.76,57.88 L541.34,58.11 L541.92,58.35 L542.50,58.60 L543.08,58.85 L543.66,59.11 L544.24,59.37 L544.82,59.64 L545.40,59.91 L545.98,60.19 L546.56,60.47 L547.14,60.75 L547.72,61.04 L548.30,61.33 L548.88,61.61 L549.46,61.90 L550.04,62.19 L550.62,62.48 L551.20,62.77 L551.78,63.06 L552.36,63.34 L552.94,63.62 L553.53,63.90 L554.11,64.18 L554.69,64.44 L555.27,64.71 L555.85,64.96 L556.43,65.21 L557.01,65.46 L557.59,65.69 L558.17,65.92 L558.75,66.14 L559.33,66.35 L559.91,66.55 L560.49,66.74 L561.07,66.92 L561.65,67.09 L562.23,67.24 L562.81,67.39 L563.39,67.52 L563.97,67.65 L564.55,67.76 L565.13,67.85 L565.71,67.93 L566.29,68.00 L566.87,68.06 L567.45,68.09 L568.03,68.12 L568.61,68.13 L569.19,68.13 L569.77,68.11 L570.35,68.08 L570.93,68.04 L571.51,67.99 L572.09,67.92 L572.67,67.84 L573.25,67.75 L573.83,67.65 L574.41,67.53 L574.99,67.41 L575.57,67.27 L576.15,67.12 L576.73,66.97 L577.31,66.80 L577.89,66.62 L578.47,66.43 L579.05,66.24 L579.63,66.03 L580.21,65.82 L580.79,65.60 L581.37,65.38 L581.95,65.15 L582.53,64.91 L583.11,64.67 L583.69,64.43 L584.27,64.18 L584.85,63.93 L585.43,63.67 L586.01,63.42 L586.59,63.16 L587.17,62.90 L587.75,62.64 L588.33,62.38 L588.91,62.12 L589.49,61.86 L590.08,61.60 L590.66,61.34 L591.24,61.08 L591.82,60.82 L592.40,60.56 L592.98,60.31 L593.56,60.06 L594.14,59.81 L594.72,59.56 L595.30,59.31 L595.88,59.07 L596.46,58.83 L597.04,58.60 L597.62,58.37 L598.20,58.14 L598.78,57.92 L599.36,57.70 L599.94,57.49 L600.52,57.28 L601.10,57.08 L601.68,56.89 L602.26,56.70 L602.84,56.52 L603.42,56.34 L604.00,56.18 L604.58,56.02 L605.16,55.86 L605.74,55.72 L606.32,55.59 L606.90,55.46 L607.48,55.35 L608.06,55.24 L608.64,55.15 L609.22,55.06 L609.80,54.99 L610.38,54.92 L610.96,54.87 L611.54,54.83 L612.12,54.80 L612.70,54.77 L613.28,54.76 L613.86,54.76 L614.44,54.77 L615.02,54.78 L615.60,54.81 L616.18,54.84 L616.76,54.89 L617.34,54.94 L617.92,55.00 L618.50,55.06 L619.08,55.14 L619.66,55.22 L620.24,55.31 L620.82,55.40 L621.40,55.50 L621.98,55.61 L622.56,55.72 L623.14,55.83 L623.72,55.95 L624.30,56.08 L624.88,56.20 L625.46,56.33 L626.05,56.47 L626.63,56.60 L627.21,56.74 L627.79,56.88 L628.37,57.01 L628.95,57.15 L629.53,57.29 L630.11,57.43 L630.69,57.57 L631.27,57.71 L631.85,57.84 L632.43,57.97 L633.01,58.10 L633.59,58.22 L634.17,58.33 L634.75,58.45 L635.33,58.55 L635.91,58.65 L636.49,58.74 L637.07,58.82 L637.65,58.90 L638.23,58.96 L638.81,59.01 L639.39,59.06 L639.97,59.09 L640.55,59.12 L641.13,59.13 L641.71,59.14 L642.29,59.13 L642.87,59.12 L643.45,59.10 L644.03,59.07 L644.61,59.03 L645.19,58.98 L645.77,58.93 L646.35,58.87 L646.93,58.80 L647.51,58.72 L648.09,58.64 L648.67,58.55 L649.25,58.45 L649.83,58.35 L650.41,58.25 L650.99,58.14 L651.57,58.03 L652.15,57.92 L652.73,57.81 L653.31,57.70 L653.89,57.59 L654.47,57.49 L655.05,57.40 L655.63,57.31 L656.21,57.23 L656.79,57.16 L657.37,57.10 L657.95,57.05 L658.53,57.02 L659.11,57.00 L659.69,57.00 L660.27,57.02 L660.85,57.06 L661.43,57.12 L662.02,57.21 L662.60,57.33 L663.18,57.48 L663.76,57.67 L664.34,57.90 L664.92,58.17 L665.50,58.48 L666.08,58.85 L666.66,59.27 L667.24,59.76 L667.82,60.33 L668.40,60.98 L668.98,61.74 L669.56,62.61 L670.14,63.59 L670.72,64.71 L671.30,65.97 L671.88,67.38 L672.46,68.94 L673.04,70.66 L673.62,72.52 L674.20,74.52 L674.78,76.66 L675.36,78.93 L675.94,81.31 L676.52,83.82 L677.10,86.44 L677.68,89.16 L678.26,91.98 L678.84,94.90 L679.42,97.91 L680.00,101.00" stroke="#f0a890" stroke-width="0.7" fill="none" clip-path="url(#cb)"/>
<path d="M390.50,145.00 L391.08,142.45 L391.66,140.04 L392.24,137.78 L392.82,135.64 L393.40,133.64 L393.98,131.76 L394.56,130.01 L395.14,128.36 L395.72,126.83 L396.30,125.41 L396.88,124.09 L397.46,122.86 L398.04,121.73 L398.62,120.68 L399.20,119.72 L399.78,118.83 L400.36,118.02 L400.94,117.28 L401.52,116.60 L402.10,115.98 L402.68,115.42 L403.26,114.91 L403.84,114.44 L404.42,114.02 L405.00,113.63 L405.58,113.27 L406.16,112.94 L406.74,112.63 L407.32,112.34 L407.90,112.06 L408.48,111.79 L409.07,111.52 L409.65,111.25 L410.23,110.98 L410.81,110.71 L411.39,110.44 L411.97,110.17 L412.55,109.89 L413.13,109.61 L413.71,109.32 L414.29,109.04 L414.87,108.75 L415.45,108.45 L416.03,108.15 L416.61,107.85 L417.19,107.54 L417.77,107.23 L418.35,106.92 L418.93,106.59 L419.51,106.27 L420.09,105.93 L420.67,105.59 L421.25,105.25 L421.83,104.89 L422.41,104.53 L422.99,104.15 L423.57,103.76 L424.15,103.36 L424.73,102.94 L425.31,102.51 L425.89,102.07 L426.47,101.61 L427.05,101.13 L427.63,100.63 L428.21,100.11 L428.79,99.57 L429.37,99.01 L429.95,98.42 L430.53,97.82 L431.11,97.20 L431.69,96.57 L432.27,95.92 L432.85,95.26 L433.43,94.59 L434.01,93.91 L434.59,93.22 L435.17,92.52 L435.75,91.82 L436.33,91.11 L436.91,90.40 L437.49,89.69 L438.07,88.98 L438.65,88.28 L439.23,87.57 L439.81,86.87 L440.39,86.17 L440.97,85.47 L441.55,84.76 L442.13,84.07 L442.71,83.37 L443.29,82.67 L443.87,81.97 L444.45,81.27 L445.04,80.57 L445.62,79.87 L446.20,79.17 L446.78,78.47 L447.36,77.77 L447.94,77.06 L448.52,76.36 L449.10,75.65 L449.68,74.94 L450.26,74.24 L450.84,73.54 L451.42,72.84 L452.00,72.15 L452.58,71.46 L453.16,70.79 L453.74,70.13 L454.32,69.48 L454.90,68.84 L455.48,68.22 L456.06,67.61 L456.64,67.02 L457.22,66.46 L457.80,65.91 L458.38,65.39 L458.96,64.89 L459.54,64.42 L460.12,63.96 L460.70,63.53 L461.28,63.11 L461.86,62.72 L462.44,62.35 L463.02,62.00 L463.60,61.66 L464.18,61.35 L464.76,61.06 L465.34,60.78 L465.92,60.52 L466.50,60.28 L467.08,60.06 L467.66,59.85 L468.24,59.66 L468.82,59.48 L469.40,59.32 L469.98,59.16 L470.56,59.02 L471.14,58.89 L471.72,58.76 L472.30,58.65 L472.88,58.54 L473.46,58.43 L474.04,58.33 L474.62,58.24 L475.20,58.15 L475.78,58.06 L476.36,57.97 L476.94,57.89 L477.52,57.81 L478.10,57.73 L478.68,57.65 L479.26,57.58 L479.84,57.50 L480.42,57.43 L481.01,57.36 L481.59,57.29 L482.17,57.22 L482.75,57.15 L483.33,57.08 L483.91,57.01 L484.49,56.94 L485.07,56.87 L485.65,56.80 L486.23,56.73 L486.81,56.65 L487.39,56.57 L487.97,56.50 L488.55,56.41 L489.13,56.33 L489.71,56.24 L490.29,56.15 L490.87,56.06 L491.45,55.96 L492.03,55.86 L492.61,55.75 L493.19,55.64 L493.77,55.53 L494.35,55.40 L494.93,55.28 L495.51,55.15 L496.09,55.01 L496.67,54.87 L497.25,54.73 L497.83,54.59 L498.41,54.44 L498.99,54.30 L499.57,54.15 L500.15,54.00 L500.73,53.86 L501.31,53.71 L501.89,53.56 L502.47,53.42 L503.05,53.28 L503.63,53.14 L504.21,53.00 L504.79,52.87 L505.37,52.75 L505.95,52.62 L506.53,52.50 L507.11,52.39 L507.69,52.27 L508.27,52.16 L508.85,52.06 L509.43,51.96 L510.01,51.86 L510.59,51.76 L511.17,51.67 L511.75,51.58 L512.33,51.50 L512.91,51.42 L513.49,51.34 L514.07,51.26 L514.65,51.19 L515.23,51.12 L515.81,51.06 L516.39,50.99 L516.97,50.94 L517.56,50.88 L518.14,50.84 L518.72,50.80 L519.30,50.76 L519.88,50.74 L520.46,50.71 L521.04,50.70 L521.62,50.70 L522.20,50.70 L522.78,50.72 L523.36,50.74 L523.94,50.77 L524.52,50.82 L525.10,50.87 L525.68,50.94 L526.26,51.02 L526.84,51.11 L527.42,51.21 L528.00,51.32 L528.58,51.44 L529.16,51.58 L529.74,51.72 L530.32,51.88 L530.90,52.04 L531.48,52.21 L532.06,52.39 L532.64,52.58 L533.22,52.77 L533.80,52.97 L534.38,53.18 L534.96,53.39 L535.54,53.61 L536.12,53.83 L536.70,54.06 L537.28,54.29 L537.86,54.53 L538.44,54.77 L539.02,55.01 L539.60,55.26 L540.18,55.51 L540.76,55.77 L541.34,56.03 L541.92,56.29 L542.50,56.55 L543.08,56.82 L543.66,57.09 L544.24,57.36 L544.82,57.64 L545.40,57.91 L545.98,58.19 L546.56,58.47 L547.14,58.75 L547.72,59.02 L548.30,59.30 L548.88,59.58 L549.46,59.85 L550.04,60.12 L550.62,60.39 L551.20,60.65 L551.78,60.90 L552.36,61.15 L552.94,61.39 L553.53,61.63 L554.11,61.85 L554.69,62.07 L555.27,62.28 L555.85,62.47 L556.43,62.66 L557.01,62.83 L557.59,62.99 L558.17,63.14 L558.75,63.28 L559.33,63.41 L559.91,63.52 L560.49,63.62 L561.07,63.71 L561.65,63.79 L562.23,63.86 L562.81,63.92 L563.39,63.96 L563.97,63.99 L564.55,64.01 L565.13,64.02 L565.71,64.02 L566.29,64.00 L566.87,63.97 L567.45,63.93 L568.03,63.88 L568.61,63.82 L569.19,63.75 L569.77,63.66 L570.35,63.57 L570.93,63.47 L571.51,63.35 L572.09,63.23 L572.67,63.10 L573.25,62.96 L573.83,62.81 L574.41,62.66 L574.99,62.49 L575.57,62.32 L576.15,62.14 L576.73,61.96 L577.31,61.77 L577.89,61.57 L578.47,61.37 L579.05,61.16 L579.63,60.94 L580.21,60.73 L580.79,60.50 L581.37,60.28 L581.95,60.05 L582.53,59.82 L583.11,59.58 L583.69,59.35 L584.27,59.11 L584.85,58.87 L585.43,58.63 L586.01,58.39 L586.59,58.15 L587.17,57.91 L587.75,57.67 L588.33,57.43 L588.91,57.19 L589.49,56.95 L590.08,56.72 L590.66,56.48 L591.24,56.25 L591.82,56.02 L592.40,55.79 L592.98,55.57 L593.56,55.35 L594.14,55.13 L594.72,54.91 L595.30,54.70 L595.88,54.49 L596.46,54.29 L597.04,54.09 L597.62,53.89 L598.20,53.70 L598.78,53.51 L599.36,53.33 L599.94,53.15 L600.52,52.98 L601.10,52.82 L601.68,52.66 L602.26,52.51 L602.84,52.37 L603.42,52.24 L604.00,52.12 L604.58,52.01 L605.16,51.90 L605.74,51.81 L606.32,51.73 L606.90,51.66 L607.48,51.60 L608.06,51.56 L608.64,51.52 L609.22,51.51 L609.80,51.50 L610.38,51.51 L610.96,51.53 L611.54,51.56 L612.12,51.61 L612.70,51.66 L613.28,51.73 L613.86,51.80 L614.44,51.88 L615.02,51.97 L615.60,52.07 L616.18,52.17 L616.76,52.27 L617.34,52.38 L617.92,52.49 L618.50,52.61 L619.08,52.72 L619.66,52.84 L620.24,52.96 L620.82,53.08 L621.40,53.21 L621.98,53.33 L622.56,53.47 L623.14,53.60 L623.72,53.74 L624.30,53.88 L624.88,54.03 L625.46,54.18 L626.05,54.34 L626.63,54.50 L627.21,54.67 L627.79,54.84 L628.37,55.02 L628.95,55.20 L629.53,55.39 L630.11,55.58 L630.69,55.78 L631.27,55.98 L631.85,56.18 L632.43,56.39 L633.01,56.59 L633.59,56.80 L634.17,57.00 L634.75,57.21 L635.33,57.41 L635.91,57.61 L636.49,57.81 L637.07,58.00 L637.65,58.19 L638.23,58.37 L638.81,58.55 L639.39,58.72 L639.97,58.89 L640.55,59.05 L641.13,59.20 L641.71,59.34 L642.29,59.48 L642.87,59.61 L643.45,59.74 L644.03,59.85 L644.61,59.96 L645.19,60.06 L645.77,60.15 L646.35,60.23 L646.93,60.31 L647.51,60.37 L648.09,60.43 L648.67,60.48 L649.25,60.52 L649.83,60.55 L650.41,60.57 L650.99,60.58 L651.57,60.60 L652.15,60.60 L652.73,60.61 L653.31,60.62 L653.89,60.62 L654.47,60.63 L655.05,60.65 L655.63,60.67 L656.21,60.69 L656.79,60.73 L657.37,60.77 L657.95,60.82 L658.53,60.89 L659.11,60.97 L659.69,61.06 L660.27,61.18 L660.85,61.32 L661.43,61.48 L662.02,61.69 L662.60,61.93 L663.18,62.23 L663.76,62.57 L664.34,62.97 L664.92,63.44 L665.50,63.97 L666.08,64.58 L666.66,65.27 L667.24,66.05 L667.82,66.93 L668.40,67.91 L668.98,69.01 L669.56,70.23 L670.14,71.58 L670.72,73.06 L671.30,74.69 L671.88,76.47 L672.46,78.41 L673.04,80.48 L673.62,82.68 L674.20,84.97 L674.78,87.36 L675.36,89.82 L675.94,92.33 L676.52,94.87 L677.10,97.44 L677.68,100.01 L678.26,102.57 L678.84,105.10 L679.42,107.58 L680.00,110.00" stroke="#77ac30" stroke-width="1.3" fill="none" clip-path="url(#cb)"/>
<path d="M390.50,121.00 L391.08,119.11 L391.66,117.35 L392.24,115.70 L392.82,114.16 L393.40,112.73 L393.98,111.41 L394.56,110.18 L395.14,109.06 L395.72,108.02 L396.30,107.07 L396.88,106.21 L397.46,105.43 L398.04,104.72 L398.62,104.09 L399.20,103.52 L399.78,103.02 L400.36,102.58 L400.94,102.19 L401.52,101.86 L402.10,101.58 L402.68,101.34 L403.26,101.14 L403.84,100.98 L404.42,100.85 L405.00,100.75 L405.58,100.67 L406.16,100.61 L406.74,100.57 L407.32,100.55 L407.90,100.53 L408.48,100.51 L409.07,100.50 L409.65,100.49 L410.23,100.46 L410.81,100.44 L411.39,100.41 L411.97,100.37 L412.55,100.32 L413.13,100.26 L413.71,100.20 L414.29,100.12 L414.87,100.03 L415.45,99.93 L416.03,99.81 L416.61,99.68 L417.19,99.54 L417.77,99.37 L418.35,99.19 L418.93,98.99 L419.51,98.78 L420.09,98.54 L420.67,98.28 L421.25,98.00 L421.83,97.70 L422.41,97.37 L422.99,97.02 L423.57,96.64 L424.15,96.24 L424.73,95.81 L425.31,95.35 L425.89,94.86 L426.47,94.35 L427.05,93.80 L427.63,93.22 L428.21,92.61 L428.79,91.96 L429.37,91.28 L429.95,90.57 L430.53,89.83 L431.11,89.07 L431.69,88.28 L432.27,87.48 L432.85,86.65 L433.43,85.82 L434.01,84.97 L434.59,84.11 L435.17,83.25 L435.75,82.39 L436.33,81.53 L436.91,80.67 L437.49,79.82 L438.07,78.98 L438.65,78.15 L439.23,77.34 L439.81,76.53 L440.39,75.74 L440.97,74.96 L441.55,74.19 L442.13,73.43 L442.71,72.69 L443.29,71.95 L443.87,71.23 L444.45,70.52 L445.04,69.83 L445.62,69.14 L446.20,68.46 L446.78,67.80 L447.36,67.15 L447.94,66.51 L448.52,65.87 L449.10,65.26 L449.68,64.65 L450.26,64.05 L450.84,63.48 L451.42,62.91 L452.00,62.36 L452.58,61.83 L453.16,61.31 L453.74,60.82 L454.32,60.34 L454.90,59.89 L455.48,59.45 L456.06,59.04 L456.64,58.65 L457.22,58.29 L457.80,57.95 L458.38,57.63 L458.96,57.34 L459.54,57.08 L460.12,56.83 L460.70,56.61 L461.28,56.40 L461.86,56.22 L462.44,56.05 L463.02,55.89 L463.60,55.75 L464.18,55.63 L464.76,55.51 L465.34,55.40 L465.92,55.31 L466.50,55.22 L467.08,55.14 L467.66,55.07 L468.24,55.00 L468.82,54.94 L469.40,54.88 L469.98,54.83 L470.56,54.79 L471.14,54.75 L471.72,54.71 L472.30,54.68 L472.88,54.65 L473.46,54.63 L474.04,54.61 L474.62,54.59 L475.20,54.57 L475.78,54.56 L476.36,54.54 L476.94,54.53 L477.52,54.52 L478.10,54.52 L478.68,54.51 L479.26,54.51 L479.84,54.50 L480.42,54.50 L481.01,54.50 L481.59,54.50 L482.17,54.50 L482.75,54.50 L483.33,54.50 L483.91,54.51 L484.49,54.51 L485.07,54.51 L485.65,54.52 L486.23,54.52 L486.81,54.52 L487.39,54.53 L487.97,54.53 L488.55,54.53 L489.13,54.53 L489.71,54.53 L490.29,54.53 L490.87,54.53 L491.45,54.53 L492.03,54.52 L492.61,54.52 L493.19,54.51 L493.77,54.50 L494.35,54.49 L494.93,54.48 L495.51,54.47 L496.09,54.45 L496.67,54.43 L497.25,54.41 L497.83,54.39 L498.41,54.37 L498.99,54.34 L499.57,54.31 L500.15,54.28 L500.73,54.25 L501.31,54.21 L501.89,54.18 L502.47,54.14 L503.05,54.09 L503.63,54.05 L504.21,54.00 L504.79,53.95 L505.37,53.90 L505.95,53.84 L506.53,53.79 L507.11,53.73 L507.69,53.67 L508.27,53.61 L508.85,53.55 L509.43,53.49 L510.01,53.43 L510.59,53.37 L511.17,53.31 L511.75,53.25 L512.33,53.20 L512.91,53.14 L513.49,53.09 L514.07,53.04 L514.65,52.99 L515.23,52.95 L515.81,52.91 L516.39,52.87 L516.97,52.84 L517.56,52.81 L518.14,52.78 L518.72,52.76 L519.30,52.75 L519.88,52.74 L520.46,52.73 L521.04,52.73 L521.62,52.73 L522.20,52.75 L522.78,52.76 L523.36,52.79 L523.94,52.82 L524.52,52.86 L525.10,52.90 L525.68,52.95 L526.26,53.01 L526.84,53.08 L527.42,53.15 L528.00,53.24 L528.58,53.33 L529.16,53.43 L529.74,53.54 L530.32,53.65 L530.90,53.78 L531.48,53.91 L532.06,54.06 L532.64,54.21 L533.22,54.37 L533.80,54.54 L534.38,54.71 L534.96,54.90 L535.54,55.10 L536.12,55.31 L536.70,55.52 L537.28,55.74 L537.86,55.97 L538.44,56.21 L539.02,56.46 L539.60,56.71 L540.18,56.96 L540.76,57.22 L541.34,57.48 L541.92,57.75 L542.50,58.02 L543.08,58.30 L543.66,58.57 L544.24,58.85 L544.82,59.13 L545.40,59.41 L545.98,59.69 L546.56,59.97 L547.14,60.25 L547.72,60.52 L548.30,60.80 L548.88,61.07 L549.46,61.34 L550.04,61.60 L550.62,61.87 L551.20,62.12 L551.78,62.38 L552.36,62.62 L552.94,62.87 L553.53,63.10 L554.11,63.33 L554.69,63.55 L555.27,63.77 L555.85,63.97 L556.43,64.17 L557.01,64.36 L557.59,64.53 L558.17,64.70 L558.75,64.86 L559.33,65.02 L559.91,65.16 L560.49,65.29 L561.07,65.41 L561.65,65.52 L562.23,65.62 L562.81,65.70 L563.39,65.78 L563.97,65.85 L564.55,65.90 L565.13,65.95 L565.71,65.98 L566.29,66.00 L566.87,66.01 L567.45,66.01 L568.03,65.99 L568.61,65.96 L569.19,65.92 L569.77,65.88 L570.35,65.81 L570.93,65.74 L571.51,65.66 L572.09,65.57 L572.67,65.46 L573.25,65.35 L573.83,65.23 L574.41,65.09 L574.99,64.95 L575.57,64.80 L576.15,64.63 L576.73,64.46 L577.31,64.28 L577.89,64.09 L578.47,63.89 L579.05,63.69 L579.63,63.48 L580.21,63.26 L580.79,63.04 L581.37,62.81 L581.95,62.58 L582.53,62.34 L583.11,62.11 L583.69,61.86 L584.27,61.62 L584.85,61.38 L585.43,61.13 L586.01,60.89 L586.59,60.65 L587.17,60.41 L587.75,60.16 L588.33,59.93 L588.91,59.69 L589.49,59.45 L590.08,59.22 L590.66,58.99 L591.24,58.76 L591.82,58.53 L592.40,58.31 L592.98,58.08 L593.56,57.86 L594.14,57.64 L594.72,57.43 L595.30,57.21 L595.88,57.00 L596.46,56.79 L597.04,56.59 L597.62,56.38 L598.20,56.18 L598.78,55.98 L599.36,55.79 L599.94,55.60 L600.52,55.42 L601.10,55.24 L601.68,55.06 L602.26,54.90 L602.84,54.73 L603.42,54.58 L604.00,54.43 L604.58,54.30 L605.16,54.17 L605.74,54.05 L606.32,53.93 L606.90,53.83 L607.48,53.74 L608.06,53.66 L608.64,53.59 L609.22,53.54 L609.80,53.49 L610.38,53.46 L610.96,53.44 L611.54,53.43 L612.12,53.44 L612.70,53.45 L613.28,53.48 L613.86,53.51 L614.44,53.56 L615.02,53.61 L615.60,53.67 L616.18,53.74 L616.76,53.82 L617.34,53.90 L617.92,53.99 L618.50,54.09 L619.08,54.19 L619.66,54.30 L620.24,54.42 L620.82,54.54 L621.40,54.67 L621.98,54.80 L622.56,54.93 L623.14,55.07 L623.72,55.22 L624.30,55.37 L624.88,55.52 L625.46,55.68 L626.05,55.84 L626.63,56.00 L627.21,56.17 L627.79,56.34 L628.37,56.52 L628.95,56.70 L629.53,56.87 L630.11,57.06 L630.69,57.24 L631.27,57.42 L631.85,57.60 L632.43,57.78 L633.01,57.96 L633.59,58.14 L634.17,58.31 L634.75,58.48 L635.33,58.65 L635.91,58.81 L636.49,58.97 L637.07,59.12 L637.65,59.27 L638.23,59.41 L638.81,59.54 L639.39,59.66 L639.97,59.77 L640.55,59.88 L641.13,59.98 L641.71,60.07 L642.29,60.15 L642.87,60.23 L643.45,60.29 L644.03,60.35 L644.61,60.40 L645.19,60.44 L645.77,60.47 L646.35,60.50 L646.93,60.51 L647.51,60.52 L648.09,60.52 L648.67,60.51 L649.25,60.49 L649.83,60.46 L650.41,60.43 L650.99,60.39 L651.57,60.35 L652.15,60.31 L652.73,60.26 L653.31,60.21 L653.89,60.16 L654.47,60.12 L655.05,60.08 L655.63,60.04 L656.21,60.01 L656.79,59.99 L657.37,59.97 L657.95,59.97 L658.53,59.97 L659.11,59.99 L659.69,60.02 L660.27,60.07 L660.85,60.14 L661.43,60.23 L662.02,60.36 L662.60,60.52 L663.18,60.71 L663.76,60.96 L664.34,61.24 L664.92,61.58 L665.50,61.98 L666.08,62.44 L666.66,62.96 L667.24,63.57 L667.82,64.26 L668.40,65.06 L668.98,65.96 L669.56,66.98 L670.14,68.13 L670.72,69.41 L671.30,70.84 L671.88,72.42 L672.46,74.17 L673.04,76.06 L673.62,78.08 L674.20,80.24 L674.78,82.50 L675.36,84.87 L675.94,87.32 L676.52,89.85 L677.10,92.45 L677.68,95.10 L678.26,97.79 L678.84,100.51 L679.42,103.25 L680.00,106.00" stroke="#edb120" stroke-width="1.3" fill="none" clip-path="url(#cb)"/>
<path d="M390.50,115.20 L391.08,113.29 L391.66,111.50 L392.24,109.83 L392.82,108.27 L393.40,106.83 L393.98,105.49 L394.56,104.26 L395.14,103.12 L395.72,102.08 L396.30,101.13 L396.88,100.26 L397.46,99.48 L398.04,98.78 L398.62,98.16 L399.20,97.60 L399.78,97.12 L400.36,96.69 L400.94,96.33 L401.52,96.02 L402.10,95.77 L402.68,95.56 L403.26,95.39 L403.84,95.27 L404.42,95.18 L405.00,95.12 L405.58,95.10 L406.16,95.09 L406.74,95.11 L407.32,95.14 L407.90,95.18 L408.48,95.24 L409.07,95.30 L409.65,95.35 L410.23,95.41 L410.81,95.47 L411.39,95.52 L411.97,95.58 L412.55,95.62 L413.13,95.67 L413.71,95.70 L414.29,95.74 L414.87,95.76 L415.45,95.78 L416.03,95.78 L416.61,95.78 L417.19,95.77 L417.77,95.74 L418.35,95.71 L418.93,95.66 L419.51,95.59 L420.09,95.51 L420.67,95.42 L421.25,95.30 L421.83,95.17 L422.41,95.01 L422.99,94.82 L423.57,94.60 L424.15,94.35 L424.73,94.07 L425.31,93.75 L425.89,93.40 L426.47,93.00 L427.05,92.56 L427.63,92.08 L428.21,91.55 L428.79,90.96 L429.37,90.33 L429.95,89.65 L430.53,88.93 L431.11,88.16 L431.69,87.36 L432.27,86.53 L432.85,85.68 L433.43,84.80 L434.01,83.90 L434.59,82.99 L435.17,82.08 L435.75,81.15 L436.33,80.22 L436.91,79.30 L437.49,78.39 L438.07,77.48 L438.65,76.59 L439.23,75.72 L439.81,74.86 L440.39,74.02 L440.97,73.19 L441.55,72.38 L442.13,71.58 L442.71,70.80 L443.29,70.04 L443.87,69.29 L444.45,68.56 L445.04,67.84 L445.62,67.14 L446.20,66.46 L446.78,65.79 L447.36,65.14 L447.94,64.50 L448.52,63.88 L449.10,63.27 L449.68,62.68 L450.26,62.11 L450.84,61.55 L451.42,61.01 L452.00,60.49 L452.58,59.98 L453.16,59.50 L453.74,59.03 L454.32,58.57 L454.90,58.14 L455.48,57.72 L456.06,57.33 L456.64,56.95 L457.22,56.59 L457.80,56.25 L458.38,55.93 L458.96,55.62 L459.54,55.34 L460.12,55.07 L460.70,54.83 L461.28,54.60 L461.86,54.39 L462.44,54.20 L463.02,54.02 L463.60,53.87 L464.18,53.73 L464.76,53.60 L465.34,53.50 L465.92,53.41 L466.50,53.33 L467.08,53.28 L467.66,53.23 L468.24,53.20 L468.82,53.18 L469.40,53.18 L469.98,53.18 L470.56,53.19 L471.14,53.21 L471.72,53.24 L472.30,53.27 L472.88,53.30 L473.46,53.34 L474.04,53.38 L474.62,53.43 L475.20,53.47 L475.78,53.52 L476.36,53.56 L476.94,53.61 L477.52,53.66 L478.10,53.71 L478.68,53.75 L479.26,53.80 L479.84,53.85 L480.42,53.91 L481.01,53.96 L481.59,54.01 L482.17,54.06 L482.75,54.11 L483.33,54.17 L483.91,54.22 L484.49,54.27 L485.07,54.33 L485.65,54.38 L486.23,54.43 L486.81,54.48 L487.39,54.53 L487.97,54.58 L488.55,54.63 L489.13,54.68 L489.71,54.72 L490.29,54.77 L490.87,54.81 L491.45,54.85 L492.03,54.89 L492.61,54.93 L493.19,54.96 L493.77,54.99 L494.35,55.02 L494.93,55.05 L495.51,55.07 L496.09,55.09 L496.67,55.11 L497.25,55.13 L497.83,55.14 L498.41,55.15 L498.99,55.15 L499.57,55.15 L500.15,55.15 L500.73,55.14 L501.31,55.13 L501.89,55.11 L502.47,55.09 L503.05,55.07 L503.63,55.04 L504.21,55.00 L504.79,54.96 L505.37,54.92 L505.95,54.87 L506.53,54.82 L507.11,54.77 L507.69,54.71 L508.27,54.65 L508.85,54.59 L509.43,54.53 L510.01,54.46 L510.59,54.40 L511.17,54.34 L511.75,54.28 L512.33,54.22 L512.91,54.16 L513.49,54.10 L514.07,54.04 L514.65,53.99 L515.23,53.94 L515.81,53.90 L516.39,53.86 L516.97,53.82 L517.56,53.79 L518.14,53.76 L518.72,53.74 L519.30,53.72 L519.88,53.71 L520.46,53.70 L521.04,53.70 L521.62,53.71 L522.20,53.72 L522.78,53.74 L523.36,53.77 L523.94,53.80 L524.52,53.84 L525.10,53.89 L525.68,53.95 L526.26,54.01 L526.84,54.09 L527.42,54.17 L528.00,54.26 L528.58,54.35 L529.16,54.46 L529.74,54.57 L530.32,54.69 L530.90,54.82 L531.48,54.96 L532.06,55.10 L532.64,55.25 L533.22,55.40 L533.80,55.57 L534.38,55.74 L534.96,55.91 L535.54,56.09 L536.12,56.28 L536.70,56.47 L537.28,56.67 L537.86,56.87 L538.44,57.08 L539.02,57.29 L539.60,57.51 L540.18,57.74 L540.76,57.96 L541.34,58.19 L541.92,58.43 L542.50,58.67 L543.08,58.91 L543.66,59.16 L544.24,59.41 L544.82,59.66 L545.40,59.92 L545.98,60.18 L546.56,60.44 L547.14,60.70 L547.72,60.96 L548.30,61.23 L548.88,61.49 L549.46,61.75 L550.04,62.02 L550.62,62.28 L551.20,62.54 L551.78,62.79 L552.36,63.05 L552.94,63.30 L553.53,63.54 L554.11,63.78 L554.69,64.02 L555.27,64.25 L555.85,64.47 L556.43,64.68 L557.01,64.89 L557.59,65.09 L558.17,65.29 L558.75,65.47 L559.33,65.65 L559.91,65.81 L560.49,65.97 L561.07,66.12 L561.65,66.26 L562.23,66.39 L562.81,66.51 L563.39,66.62 L563.97,66.72 L564.55,66.81 L565.13,66.88 L565.71,66.95 L566.29,67.00 L566.87,67.04 L567.45,67.07 L568.03,67.09 L568.61,67.10 L569.19,67.09 L569.77,67.07 L570.35,67.04 L570.93,67.00 L571.51,66.95 L572.09,66.88 L572.67,66.81 L573.25,66.72 L573.83,66.62 L574.41,66.51 L574.99,66.39 L575.57,66.26 L576.15,66.12 L576.73,65.97 L577.31,65.80 L577.89,65.63 L578.47,65.44 L579.05,65.25 L579.63,65.05 L580.21,64.84 L580.79,64.62 L581.37,64.40 L581.95,64.17 L582.53,63.93 L583.11,63.69 L583.69,63.44 L584.27,63.19 L584.85,62.94 L585.43,62.68 L586.01,62.42 L586.59,62.16 L587.17,61.90 L587.75,61.63 L588.33,61.37 L588.91,61.10 L589.49,60.84 L590.08,60.58 L590.66,60.31 L591.24,60.05 L591.82,59.79 L592.40,59.54 L592.98,59.28 L593.56,59.03 L594.14,58.78 L594.72,58.53 L595.30,58.29 L595.88,58.06 L596.46,57.82 L597.04,57.60 L597.62,57.37 L598.20,57.16 L598.78,56.95 L599.36,56.74 L599.94,56.55 L600.52,56.36 L601.10,56.17 L601.68,56.00 L602.26,55.83 L602.84,55.67 L603.42,55.52 L604.00,55.38 L604.58,55.24 L605.16,55.12 L605.74,55.01 L606.32,54.90 L606.90,54.81 L607.48,54.72 L608.06,54.65 L608.64,54.58 L609.22,54.53 L609.80,54.49 L610.38,54.47 L610.96,54.45 L611.54,54.44 L612.12,54.45 L612.70,54.46 L613.28,54.49 L613.86,54.52 L614.44,54.56 L615.02,54.62 L615.60,54.68 L616.18,54.74 L616.76,54.82 L617.34,54.90 L617.92,54.99 L618.50,55.09 L619.08,55.19 L619.66,55.30 L620.24,55.42 L620.82,55.54 L621.40,55.66 L621.98,55.79 L622.56,55.93 L623.14,56.07 L623.72,56.22 L624.30,56.37 L624.88,56.52 L625.46,56.68 L626.05,56.84 L626.63,57.00 L627.21,57.17 L627.79,57.34 L628.37,57.52 L628.95,57.70 L629.53,57.88 L630.11,58.06 L630.69,58.24 L631.27,58.42 L631.85,58.60 L632.43,58.78 L633.01,58.96 L633.59,59.14 L634.17,59.31 L634.75,59.48 L635.33,59.65 L635.91,59.81 L636.49,59.97 L637.07,60.12 L637.65,60.27 L638.23,60.41 L638.81,60.54 L639.39,60.66 L639.97,60.77 L640.55,60.88 L641.13,60.98 L641.71,61.07 L642.29,61.15 L642.87,61.23 L643.45,61.29 L644.03,61.35 L644.61,61.40 L645.19,61.44 L645.77,61.47 L646.35,61.50 L646.93,61.51 L647.51,61.52 L648.09,61.52 L648.67,61.51 L649.25,61.49 L649.83,61.46 L650.41,61.43 L650.99,61.39 L651.57,61.35 L652.15,61.31 L652.73,61.26 L653.31,61.21 L653.89,61.16 L654.47,61.12 L655.05,61.08 L655.63,61.04 L656.21,61.01 L656.79,60.99 L657.37,60.97 L657.95,60.97 L658.53,60.97 L659.11,60.99 L659.69,61.02 L660.27,61.07 L660.85,61.14 L661.43,61.23 L662.02,61.36 L662.60,61.52 L663.18,61.71 L663.76,61.96 L664.34,62.24 L664.92,62.58 L665.50,62.98 L666.08,63.44 L666.66,63.96 L667.24,64.57 L667.82,65.26 L668.40,66.06 L668.98,66.96 L669.56,67.98 L670.14,69.13 L670.72,70.41 L671.30,71.84 L671.88,73.42 L672.46,75.17 L673.04,77.06 L673.62,79.08 L674.20,81.24 L674.78,83.50 L675.36,85.87 L675.94,88.32 L676.52,90.85 L677.10,93.45 L677.68,96.10 L678.26,98.79 L678.84,101.51 L679.42,104.25 L680.00,107.00" stroke="#d95319" stroke-width="1.3" fill="none" clip-path="url(#cb)"/>
<path d="M390.50,125.80 L391.08,124.05 L391.66,122.40 L392.24,120.84 L392.82,119.38 L393.40,118.01 L393.98,116.73 L394.56,115.53 L395.14,114.41 L395.72,113.37 L396.30,112.40 L396.88,111.51 L397.46,110.69 L398.04,109.93 L398.62,109.23 L399.20,108.60 L399.78,108.02 L400.36,107.50 L400.94,107.02 L401.52,106.60 L402.10,106.22 L402.68,105.88 L403.26,105.58 L403.84,105.31 L404.42,105.08 L405.00,104.87 L405.58,104.69 L406.16,104.54 L406.74,104.40 L407.32,104.29 L407.90,104.18 L408.48,104.09 L409.07,104.01 L409.65,103.93 L410.23,103.85 L410.81,103.77 L411.39,103.70 L411.97,103.62 L412.55,103.53 L413.13,103.44 L413.71,103.34 L414.29,103.24 L414.87,103.11 L415.45,102.98 L416.03,102.83 L416.61,102.66 L417.19,102.47 L417.77,102.25 L418.35,102.02 L418.93,101.76 L419.51,101.47 L420.09,101.15 L420.67,100.81 L421.25,100.43 L421.83,100.03 L422.41,99.60 L422.99,99.13 L423.57,98.64 L424.15,98.12 L424.73,97.58 L425.31,97.00 L425.89,96.40 L426.47,95.77 L427.05,95.10 L427.63,94.42 L428.21,93.70 L428.79,92.95 L429.37,92.18 L429.95,91.38 L430.53,90.56 L431.11,89.72 L431.69,88.86 L432.27,87.99 L432.85,87.11 L433.43,86.21 L434.01,85.31 L434.59,84.40 L435.17,83.49 L435.75,82.57 L436.33,81.67 L436.91,80.76 L437.49,79.87 L438.07,78.98 L438.65,78.11 L439.23,77.25 L439.81,76.40 L440.39,75.56 L440.97,74.73 L441.55,73.92 L442.13,73.11 L442.71,72.32 L443.29,71.53 L443.87,70.76 L444.45,69.99 L445.04,69.23 L445.62,68.48 L446.20,67.74 L446.78,67.01 L447.36,66.29 L447.94,65.57 L448.52,64.86 L449.10,64.15 L449.68,63.46 L450.26,62.77 L450.84,62.10 L451.42,61.44 L452.00,60.79 L452.58,60.16 L453.16,59.55 L453.74,58.95 L454.32,58.38 L454.90,57.82 L455.48,57.29 L456.06,56.79 L456.64,56.31 L457.22,55.86 L457.80,55.43 L458.38,55.04 L458.96,54.68 L459.54,54.34 L460.12,54.04 L460.70,53.75 L461.28,53.50 L461.86,53.26 L462.44,53.05 L463.02,52.86 L463.60,52.70 L464.18,52.55 L464.76,52.42 L465.34,52.30 L465.92,52.21 L466.50,52.13 L467.08,52.06 L467.66,52.01 L468.24,51.97 L468.82,51.95 L469.40,51.93 L469.98,51.93 L470.56,51.94 L471.14,51.96 L471.72,51.98 L472.30,52.02 L472.88,52.07 L473.46,52.12 L474.04,52.18 L474.62,52.24 L475.20,52.31 L475.78,52.39 L476.36,52.47 L476.94,52.56 L477.52,52.65 L478.10,52.74 L478.68,52.83 L479.26,52.93 L479.84,53.02 L480.42,53.12 L481.01,53.22 L481.59,53.32 L482.17,53.41 L482.75,53.51 L483.33,53.60 L483.91,53.70 L484.49,53.79 L485.07,53.88 L485.65,53.97 L486.23,54.06 L486.81,54.14 L487.39,54.23 L487.97,54.31 L488.55,54.39 L489.13,54.47 L489.71,54.54 L490.29,54.61 L490.87,54.68 L491.45,54.75 L492.03,54.81 L492.61,54.88 L493.19,54.93 L493.77,54.99 L494.35,55.04 L494.93,55.09 L495.51,55.13 L496.09,55.18 L496.67,55.21 L497.25,55.25 L497.83,55.28 L498.41,55.31 L498.99,55.34 L499.57,55.37 L500.15,55.39 L500.73,55.41 L501.31,55.43 L501.89,55.45 L502.47,55.46 L503.05,55.48 L503.63,55.49 L504.21,55.50 L504.79,55.51 L505.37,55.52 L505.95,55.52 L506.53,55.53 L507.11,55.53 L507.69,55.53 L508.27,55.54 L508.85,55.54 L509.43,55.54 L510.01,55.54 L510.59,55.53 L511.17,55.53 L511.75,55.53 L512.33,55.52 L512.91,55.52 L513.49,55.51 L514.07,55.51 L514.65,55.50 L515.23,55.49 L515.81,55.49 L516.39,55.48 L516.97,55.47 L517.56,55.47 L518.14,55.47 L518.72,55.47 L519.30,55.48 L519.88,55.49 L520.46,55.50 L521.04,55.52 L521.62,55.55 L522.20,55.58 L522.78,55.62 L523.36,55.66 L523.94,55.72 L524.52,55.78 L525.10,55.85 L525.68,55.93 L526.26,56.02 L526.84,56.12 L527.42,56.23 L528.00,56.35 L528.58,56.48 L529.16,56.62 L529.74,56.76 L530.32,56.92 L530.90,57.08 L531.48,57.25 L532.06,57.42 L532.64,57.61 L533.22,57.80 L533.80,57.99 L534.38,58.19 L534.96,58.40 L535.54,58.61 L536.12,58.82 L536.70,59.04 L537.28,59.26 L537.86,59.49 L538.44,59.72 L539.02,59.96 L539.60,60.20 L540.18,60.44 L540.76,60.70 L541.34,60.95 L541.92,61.21 L542.50,61.48 L543.08,61.76 L543.66,62.03 L544.24,62.32 L544.82,62.61 L545.40,62.90 L545.98,63.21 L546.56,63.51 L547.14,63.82 L547.72,64.14 L548.30,64.46 L548.88,64.78 L549.46,65.10 L550.04,65.42 L550.62,65.74 L551.20,66.06 L551.78,66.38 L552.36,66.69 L552.94,67.00 L553.53,67.31 L554.11,67.60 L554.69,67.90 L555.27,68.18 L555.85,68.46 L556.43,68.73 L557.01,68.99 L557.59,69.24 L558.17,69.48 L558.75,69.70 L559.33,69.92 L559.91,70.13 L560.49,70.32 L561.07,70.50 L561.65,70.67 L562.23,70.82 L562.81,70.97 L563.39,71.09 L563.97,71.20 L564.55,71.30 L565.13,71.38 L565.71,71.45 L566.29,71.50 L566.87,71.54 L567.45,71.55 L568.03,71.55 L568.61,71.54 L569.19,71.51 L569.77,71.47 L570.35,71.41 L570.93,71.34 L571.51,71.26 L572.09,71.16 L572.67,71.05 L573.25,70.93 L573.83,70.79 L574.41,70.65 L574.99,70.49 L575.57,70.32 L576.15,70.15 L576.73,69.96 L577.31,69.76 L577.89,69.56 L578.47,69.34 L579.05,69.12 L579.63,68.89 L580.21,68.65 L580.79,68.41 L581.37,68.16 L581.95,67.90 L582.53,67.64 L583.11,67.37 L583.69,67.10 L584.27,66.82 L584.85,66.54 L585.43,66.26 L586.01,65.97 L586.59,65.68 L587.17,65.38 L587.75,65.09 L588.33,64.79 L588.91,64.50 L589.49,64.20 L590.08,63.91 L590.66,63.61 L591.24,63.32 L591.82,63.03 L592.40,62.74 L592.98,62.45 L593.56,62.17 L594.14,61.90 L594.72,61.63 L595.30,61.36 L595.88,61.10 L596.46,60.85 L597.04,60.60 L597.62,60.37 L598.20,60.14 L598.78,59.92 L599.36,59.70 L599.94,59.50 L600.52,59.31 L601.10,59.12 L601.68,58.94 L602.26,58.78 L602.84,58.62 L603.42,58.47 L604.00,58.33 L604.58,58.20 L605.16,58.08 L605.74,57.97 L606.32,57.87 L606.90,57.78 L607.48,57.70 L608.06,57.64 L608.64,57.58 L609.22,57.53 L609.80,57.49 L610.38,57.47 L610.96,57.45 L611.54,57.45 L612.12,57.45 L612.70,57.47 L613.28,57.49 L613.86,57.53 L614.44,57.57 L615.02,57.62 L615.60,57.68 L616.18,57.75 L616.76,57.82 L617.34,57.90 L617.92,57.99 L618.50,58.09 L619.08,58.19 L619.66,58.30 L620.24,58.41 L620.82,58.53 L621.40,58.66 L621.98,58.79 L622.56,58.93 L623.14,59.07 L623.72,59.21 L624.30,59.36 L624.88,59.52 L625.46,59.68 L626.05,59.84 L626.63,60.00 L627.21,60.17 L627.79,60.34 L628.37,60.52 L628.95,60.70 L629.53,60.88 L630.11,61.06 L630.69,61.24 L631.27,61.42 L631.85,61.60 L632.43,61.78 L633.01,61.96 L633.59,62.14 L634.17,62.31 L634.75,62.48 L635.33,62.65 L635.91,62.81 L636.49,62.97 L637.07,63.12 L637.65,63.27 L638.23,63.41 L638.81,63.54 L639.39,63.66 L639.97,63.78 L640.55,63.89 L641.13,63.99 L641.71,64.08 L642.29,64.16 L642.87,64.24 L643.45,64.30 L644.03,64.36 L644.61,64.41 L645.19,64.45 L645.77,64.49 L646.35,64.51 L646.93,64.52 L647.51,64.53 L648.09,64.52 L648.67,64.51 L649.25,64.49 L649.83,64.46 L650.41,64.42 L650.99,64.37 L651.57,64.32 L652.15,64.27 L652.73,64.22 L653.31,64.16 L653.89,64.11 L654.47,64.07 L655.05,64.02 L655.63,63.99 L656.21,63.96 L656.79,63.94 L657.37,63.93 L657.95,63.93 L658.53,63.95 L659.11,63.98 L659.69,64.03 L660.27,64.10 L660.85,64.19 L661.43,64.31 L662.02,64.45 L662.60,64.62 L663.18,64.82 L663.76,65.05 L664.34,65.32 L664.92,65.63 L665.50,65.98 L666.08,66.37 L666.66,66.82 L667.24,67.32 L667.82,67.88 L668.40,68.52 L668.98,69.25 L669.56,70.05 L670.14,70.96 L670.72,71.97 L671.30,73.09 L671.88,74.33 L672.46,75.69 L673.04,77.18 L673.62,78.78 L674.20,80.49 L674.78,82.31 L675.36,84.24 L675.94,86.27 L676.52,88.39 L677.10,90.61 L677.68,92.92 L678.26,95.32 L678.84,97.80 L679.42,100.36 L680.00,103.00" stroke="#7e2f8e" stroke-width="1.3" fill="none" clip-path="url(#cb)"/>
<path d="M390.50,130.60 L391.08,128.84 L391.66,127.19 L392.24,125.65 L392.82,124.21 L393.40,122.87 L393.98,121.62 L394.56,120.47 L395.14,119.40 L395.72,118.42 L396.30,117.51 L396.88,116.68 L397.46,115.92 L398.04,115.23 L398.62,114.60 L399.20,114.03 L399.78,113.52 L400.36,113.06 L400.94,112.64 L401.52,112.27 L402.10,111.93 L402.68,111.63 L403.26,111.36 L403.84,111.12 L404.42,110.91 L405.00,110.71 L405.58,110.52 L406.16,110.35 L406.74,110.18 L407.32,110.02 L407.90,109.86 L408.48,109.69 L409.07,109.51 L409.65,109.33 L410.23,109.12 L410.81,108.91 L411.39,108.68 L411.97,108.43 L412.55,108.18 L413.13,107.91 L413.71,107.62 L414.29,107.32 L414.87,107.01 L415.45,106.68 L416.03,106.33 L416.61,105.98 L417.19,105.60 L417.77,105.21 L418.35,104.81 L418.93,104.39 L419.51,103.96 L420.09,103.50 L420.67,103.04 L421.25,102.55 L421.83,102.04 L422.41,101.52 L422.99,100.97 L423.57,100.39 L424.15,99.79 L424.73,99.17 L425.31,98.52 L425.89,97.83 L426.47,97.12 L427.05,96.38 L427.63,95.60 L428.21,94.79 L428.79,93.95 L429.37,93.07 L429.95,92.15 L430.53,91.21 L431.11,90.24 L431.69,89.25 L432.27,88.24 L432.85,87.22 L433.43,86.19 L434.01,85.15 L434.59,84.10 L435.17,83.06 L435.75,82.02 L436.33,80.99 L436.91,79.97 L437.49,78.96 L438.07,77.98 L438.65,77.01 L439.23,76.07 L439.81,75.15 L440.39,74.24 L440.97,73.36 L441.55,72.49 L442.13,71.63 L442.71,70.79 L443.29,69.96 L443.87,69.14 L444.45,68.33 L445.04,67.53 L445.62,66.74 L446.20,65.95 L446.78,65.17 L447.36,64.39 L447.94,63.62 L448.52,62.85 L449.10,62.07 L449.68,61.30 L450.26,60.54 L450.84,59.79 L451.42,59.05 L452.00,58.32 L452.58,57.61 L453.16,56.92 L453.74,56.25 L454.32,55.61 L454.90,54.99 L455.48,54.41 L456.06,53.86 L456.64,53.34 L457.22,52.87 L457.80,52.43 L458.38,52.04 L458.96,51.69 L459.54,51.38 L460.12,51.11 L460.70,50.87 L461.28,50.66 L461.86,50.49 L462.44,50.35 L463.02,50.23 L463.60,50.14 L464.18,50.08 L464.76,50.03 L465.34,50.01 L465.92,50.00 L466.50,50.01 L467.08,50.03 L467.66,50.07 L468.24,50.13 L468.82,50.20 L469.40,50.28 L469.98,50.38 L470.56,50.49 L471.14,50.62 L471.72,50.75 L472.30,50.90 L472.88,51.07 L473.46,51.24 L474.04,51.43 L474.62,51.63 L475.20,51.84 L475.78,52.06 L476.36,52.29 L476.94,52.53 L477.52,52.77 L478.10,53.02 L478.68,53.27 L479.26,53.52 L479.84,53.78 L480.42,54.03 L481.01,54.29 L481.59,54.54 L482.17,54.79 L482.75,55.04 L483.33,55.29 L483.91,55.53 L484.49,55.77 L485.07,56.00 L485.65,56.23 L486.23,56.46 L486.81,56.68 L487.39,56.90 L487.97,57.12 L488.55,57.33 L489.13,57.53 L489.71,57.73 L490.29,57.92 L490.87,58.11 L491.45,58.29 L492.03,58.47 L492.61,58.64 L493.19,58.81 L493.77,58.97 L494.35,59.12 L494.93,59.27 L495.51,59.40 L496.09,59.54 L496.67,59.66 L497.25,59.78 L497.83,59.89 L498.41,59.99 L498.99,60.08 L499.57,60.16 L500.15,60.24 L500.73,60.30 L501.31,60.36 L501.89,60.41 L502.47,60.45 L503.05,60.47 L503.63,60.49 L504.21,60.50 L504.79,60.50 L505.37,60.48 L505.95,60.46 L506.53,60.42 L507.11,60.38 L507.69,60.33 L508.27,60.26 L508.85,60.19 L509.43,60.11 L510.01,60.02 L510.59,59.92 L511.17,59.81 L511.75,59.69 L512.33,59.56 L512.91,59.43 L513.49,59.29 L514.07,59.14 L514.65,58.98 L515.23,58.81 L515.81,58.64 L516.39,58.46 L516.97,58.28 L517.56,58.10 L518.14,57.92 L518.72,57.74 L519.30,57.56 L519.88,57.38 L520.46,57.20 L521.04,57.04 L521.62,56.88 L522.20,56.72 L522.78,56.58 L523.36,56.45 L523.94,56.33 L524.52,56.22 L525.10,56.13 L525.68,56.05 L526.26,55.99 L526.84,55.95 L527.42,55.93 L528.00,55.92 L528.58,55.93 L529.16,55.95 L529.74,55.99 L530.32,56.05 L530.90,56.12 L531.48,56.20 L532.06,56.29 L532.64,56.40 L533.22,56.51 L533.80,56.64 L534.38,56.78 L534.96,56.92 L535.54,57.08 L536.12,57.24 L536.70,57.41 L537.28,57.59 L537.86,57.78 L538.44,57.98 L539.02,58.18 L539.60,58.39 L540.18,58.61 L540.76,58.84 L541.34,59.07 L541.92,59.31 L542.50,59.56 L543.08,59.81 L543.66,60.08 L544.24,60.35 L544.82,60.62 L545.40,60.91 L545.98,61.20 L546.56,61.49 L547.14,61.80 L547.72,62.10 L548.30,62.41 L548.88,62.73 L549.46,63.04 L550.04,63.36 L550.62,63.68 L551.20,64.00 L551.78,64.32 L552.36,64.63 L552.94,64.95 L553.53,65.26 L554.11,65.57 L554.69,65.87 L555.27,66.17 L555.85,66.46 L556.43,66.74 L557.01,67.02 L557.59,67.29 L558.17,67.55 L558.75,67.81 L559.33,68.05 L559.91,68.28 L560.49,68.50 L561.07,68.71 L561.65,68.91 L562.23,69.10 L562.81,69.27 L563.39,69.43 L563.97,69.58 L564.55,69.71 L565.13,69.82 L565.71,69.92 L566.29,70.00 L566.87,70.07 L567.45,70.12 L568.03,70.15 L568.61,70.16 L569.19,70.17 L569.77,70.15 L570.35,70.12 L570.93,70.08 L571.51,70.02 L572.09,69.95 L572.67,69.87 L573.25,69.78 L573.83,69.67 L574.41,69.55 L574.99,69.42 L575.57,69.28 L576.15,69.13 L576.73,68.96 L577.31,68.79 L577.89,68.61 L578.47,68.42 L579.05,68.23 L579.63,68.02 L580.21,67.81 L580.79,67.59 L581.37,67.37 L581.95,67.14 L582.53,66.90 L583.11,66.67 L583.69,66.42 L584.27,66.17 L584.85,65.92 L585.43,65.67 L586.01,65.41 L586.59,65.16 L587.17,64.90 L587.75,64.64 L588.33,64.38 L588.91,64.12 L589.49,63.86 L590.08,63.60 L590.66,63.34 L591.24,63.08 L591.82,62.82 L592.40,62.57 L592.98,62.31 L593.56,62.06 L594.14,61.81 L594.72,61.56 L595.30,61.32 L595.88,61.07 L596.46,60.83 L597.04,60.60 L597.62,60.37 L598.20,60.14 L598.78,59.92 L599.36,59.70 L599.94,59.49 L600.52,59.28 L601.10,59.08 L601.68,58.88 L602.26,58.70 L602.84,58.51 L603.42,58.34 L604.00,58.17 L604.58,58.01 L605.16,57.86 L605.74,57.72 L606.32,57.59 L606.90,57.46 L607.48,57.35 L608.06,57.24 L608.64,57.15 L609.22,57.06 L609.80,56.99 L610.38,56.92 L610.96,56.87 L611.54,56.83 L612.12,56.80 L612.70,56.78 L613.28,56.77 L613.86,56.77 L614.44,56.77 L615.02,56.79 L615.60,56.81 L616.18,56.85 L616.76,56.89 L617.34,56.94 L617.92,57.00 L618.50,57.06 L619.08,57.13 L619.66,57.21 L620.24,57.29 L620.82,57.38 L621.40,57.48 L621.98,57.58 L622.56,57.69 L623.14,57.81 L623.72,57.92 L624.30,58.05 L624.88,58.17 L625.46,58.31 L626.05,58.44 L626.63,58.58 L627.21,58.72 L627.79,58.87 L628.37,59.02 L628.95,59.17 L629.53,59.32 L630.11,59.47 L630.69,59.63 L631.27,59.78 L631.85,59.94 L632.43,60.09 L633.01,60.24 L633.59,60.39 L634.17,60.54 L634.75,60.68 L635.33,60.82 L635.91,60.95 L636.49,61.08 L637.07,61.20 L637.65,61.32 L638.23,61.43 L638.81,61.53 L639.39,61.62 L639.97,61.71 L640.55,61.78 L641.13,61.85 L641.71,61.91 L642.29,61.96 L642.87,62.01 L643.45,62.04 L644.03,62.07 L644.61,62.09 L645.19,62.11 L645.77,62.11 L646.35,62.11 L646.93,62.10 L647.51,62.08 L648.09,62.05 L648.67,62.02 L649.25,61.98 L649.83,61.93 L650.41,61.88 L650.99,61.82 L651.57,61.75 L652.15,61.69 L652.73,61.62 L653.31,61.55 L653.89,61.48 L654.47,61.41 L655.05,61.34 L655.63,61.28 L656.21,61.22 L656.79,61.16 L657.37,61.11 L657.95,61.07 L658.53,61.03 L659.11,61.01 L659.69,60.99 L660.27,60.99 L660.85,61.00 L661.43,61.03 L662.02,61.08 L662.60,61.15 L663.18,61.25 L663.76,61.38 L664.34,61.55 L664.92,61.75 L665.50,61.99 L666.08,62.27 L666.66,62.60 L667.24,62.99 L667.82,63.45 L668.40,63.99 L668.98,64.61 L669.56,65.32 L670.14,66.15 L670.72,67.08 L671.30,68.13 L671.88,69.32 L672.46,70.64 L673.04,72.09 L673.62,73.68 L674.20,75.39 L674.78,77.23 L675.36,79.19 L675.94,81.27 L676.52,83.47 L677.10,85.79 L677.68,88.22 L678.26,90.76 L678.84,93.40 L679.42,96.15 L680.00,99.00" stroke="#4dbeee" stroke-width="0.9" fill="none" clip-path="url(#cb)"/>
<path d="M390.50,142.00 L391.08,139.56 L391.66,137.25 L392.24,135.08 L392.82,133.04 L393.40,131.12 L393.98,129.33 L394.56,127.65 L395.14,126.08 L395.72,124.62 L396.30,123.26 L396.88,122.00 L397.46,120.84 L398.04,119.76 L398.62,118.77 L399.20,117.86 L399.78,117.03 L400.36,116.27 L400.94,115.58 L401.52,114.95 L402.10,114.38 L402.68,113.86 L403.26,113.40 L403.84,112.98 L404.42,112.60 L405.00,112.25 L405.58,111.94 L406.16,111.66 L406.74,111.40 L407.32,111.16 L407.90,110.94 L408.48,110.72 L409.07,110.52 L409.65,110.31 L410.23,110.10 L410.81,109.90 L411.39,109.69 L411.97,109.47 L412.55,109.26 L413.13,109.04 L413.71,108.81 L414.29,108.57 L414.87,108.33 L415.45,108.08 L416.03,107.82 L416.61,107.54 L417.19,107.26 L417.77,106.96 L418.35,106.64 L418.93,106.31 L419.51,105.96 L420.09,105.60 L420.67,105.22 L421.25,104.81 L421.83,104.38 L422.41,103.93 L422.99,103.45 L423.57,102.95 L424.15,102.42 L424.73,101.86 L425.31,101.26 L425.89,100.64 L426.47,99.97 L427.05,99.28 L427.63,98.54 L428.21,97.77 L428.79,96.95 L429.37,96.09 L429.95,95.20 L430.53,94.27 L431.11,93.31 L431.69,92.33 L432.27,91.32 L432.85,90.30 L433.43,89.26 L434.01,88.22 L434.59,87.16 L435.17,86.11 L435.75,85.06 L436.33,84.02 L436.91,82.99 L437.49,81.98 L438.07,80.98 L438.65,80.01 L439.23,79.05 L439.81,78.12 L440.39,77.21 L440.97,76.32 L441.55,75.44 L442.13,74.58 L442.71,73.74 L443.29,72.91 L443.87,72.09 L444.45,71.28 L445.04,70.49 L445.62,69.70 L446.20,68.92 L446.78,68.14 L447.36,67.37 L447.94,66.61 L448.52,65.85 L449.10,65.09 L449.68,64.33 L450.26,63.58 L450.84,62.84 L451.42,62.10 L452.00,61.37 L452.58,60.66 L453.16,59.95 L453.74,59.26 L454.32,58.58 L454.90,57.92 L455.48,57.28 L456.06,56.65 L456.64,56.05 L457.22,55.47 L457.80,54.91 L458.38,54.38 L458.96,53.87 L459.54,53.38 L460.12,52.91 L460.70,52.47 L461.28,52.05 L461.86,51.65 L462.44,51.26 L463.02,50.90 L463.60,50.55 L464.18,50.22 L464.76,49.91 L465.34,49.61 L465.92,49.33 L466.50,49.06 L467.08,48.80 L467.66,48.56 L468.24,48.34 L468.82,48.12 L469.40,47.92 L469.98,47.73 L470.56,47.56 L471.14,47.39 L471.72,47.24 L472.30,47.10 L472.88,46.97 L473.46,46.85 L474.04,46.74 L474.62,46.64 L475.20,46.55 L475.78,46.47 L476.36,46.40 L476.94,46.34 L477.52,46.29 L478.10,46.25 L478.68,46.21 L479.26,46.19 L479.84,46.18 L480.42,46.18 L481.01,46.19 L481.59,46.20 L482.17,46.23 L482.75,46.26 L483.33,46.31 L483.91,46.36 L484.49,46.42 L485.07,46.48 L485.65,46.56 L486.23,46.63 L486.81,46.72 L487.39,46.81 L487.97,46.90 L488.55,47.00 L489.13,47.10 L489.71,47.20 L490.29,47.31 L490.87,47.42 L491.45,47.53 L492.03,47.64 L492.61,47.75 L493.19,47.86 L493.77,47.98 L494.35,48.09 L494.93,48.20 L495.51,48.31 L496.09,48.42 L496.67,48.52 L497.25,48.63 L497.83,48.73 L498.41,48.83 L498.99,48.93 L499.57,49.03 L500.15,49.12 L500.73,49.21 L501.31,49.30 L501.89,49.39 L502.47,49.47 L503.05,49.55 L503.63,49.63 L504.21,49.70 L504.79,49.77 L505.37,49.83 L505.95,49.89 L506.53,49.95 L507.11,50.00 L507.69,50.05 L508.27,50.10 L508.85,50.15 L509.43,50.19 L510.01,50.23 L510.59,50.27 L511.17,50.31 L511.75,50.34 L512.33,50.38 L512.91,50.41 L513.49,50.44 L514.07,50.47 L514.65,50.50 L515.23,50.54 L515.81,50.57 L516.39,50.60 L516.97,50.63 L517.56,50.67 L518.14,50.71 L518.72,50.75 L519.30,50.80 L519.88,50.86 L520.46,50.92 L521.04,50.99 L521.62,51.06 L522.20,51.14 L522.78,51.24 L523.36,51.34 L523.94,51.45 L524.52,51.58 L525.10,51.72 L525.68,51.87 L526.26,52.03 L526.84,52.21 L527.42,52.40 L528.00,52.60 L528.58,52.82 L529.16,53.05 L529.74,53.29 L530.32,53.54 L530.90,53.80 L531.48,54.07 L532.06,54.34 L532.64,54.63 L533.22,54.92 L533.80,55.22 L534.38,55.53 L534.96,55.84 L535.54,56.16 L536.12,56.48 L536.70,56.81 L537.28,57.14 L537.86,57.48 L538.44,57.82 L539.02,58.17 L539.60,58.52 L540.18,58.88 L540.76,59.25 L541.34,59.62 L541.92,59.99 L542.50,60.37 L543.08,60.76 L543.66,61.15 L544.24,61.55 L544.82,61.96 L545.40,62.37 L545.98,62.78 L546.56,63.21 L547.14,63.63 L547.72,64.06 L548.30,64.50 L548.88,64.93 L549.46,65.37 L550.04,65.80 L550.62,66.24 L551.20,66.67 L551.78,67.10 L552.36,67.53 L552.94,67.95 L553.53,68.36 L554.11,68.77 L554.69,69.17 L555.27,69.56 L555.85,69.95 L556.43,70.32 L557.01,70.68 L557.59,71.03 L558.17,71.37 L558.75,71.69 L559.33,72.00 L559.91,72.30 L560.49,72.58 L561.07,72.85 L561.65,73.10 L562.23,73.34 L562.81,73.56 L563.39,73.76 L563.97,73.95 L564.55,74.12 L565.13,74.27 L565.71,74.39 L566.29,74.50 L566.87,74.59 L567.45,74.66 L568.03,74.71 L568.61,74.74 L569.19,74.74 L569.77,74.73 L570.35,74.70 L570.93,74.64 L571.51,74.56 L572.09,74.47 L572.67,74.35 L573.25,74.21 L573.83,74.05 L574.41,73.87 L574.99,73.67 L575.57,73.45 L576.15,73.21 L576.73,72.94 L577.31,72.66 L577.89,72.35 L578.47,72.03 L579.05,71.69 L579.63,71.33 L580.21,70.96 L580.79,70.58 L581.37,70.18 L581.95,69.77 L582.53,69.35 L583.11,68.93 L583.69,68.50 L584.27,68.06 L584.85,67.62 L585.43,67.17 L586.01,66.72 L586.59,66.27 L587.17,65.82 L587.75,65.38 L588.33,64.93 L588.91,64.48 L589.49,64.04 L590.08,63.59 L590.66,63.15 L591.24,62.70 L591.82,62.26 L592.40,61.81 L592.98,61.37 L593.56,60.92 L594.14,60.47 L594.72,60.02 L595.30,59.57 L595.88,59.11 L596.46,58.66 L597.04,58.20 L597.62,57.74 L598.20,57.27 L598.78,56.81 L599.36,56.36 L599.94,55.90 L600.52,55.46 L601.10,55.03 L601.68,54.61 L602.26,54.21 L602.84,53.82 L603.42,53.46 L604.00,53.12 L604.58,52.80 L605.16,52.51 L605.74,52.26 L606.32,52.03 L606.90,51.84 L607.48,51.69 L608.06,51.58 L608.64,51.51 L609.22,51.48 L609.80,51.51 L610.38,51.58 L610.96,51.70 L611.54,51.86 L612.12,52.06 L612.70,52.30 L613.28,52.58 L613.86,52.89 L614.44,53.23 L615.02,53.60 L615.60,53.99 L616.18,54.41 L616.76,54.84 L617.34,55.30 L617.92,55.77 L618.50,56.25 L619.08,56.74 L619.66,57.25 L620.24,57.77 L620.82,58.30 L621.40,58.84 L621.98,59.40 L622.56,59.98 L623.14,60.57 L623.72,61.17 L624.30,61.79 L624.88,62.42 L625.46,63.07 L626.05,63.74 L626.63,64.43 L627.21,65.13 L627.79,65.84 L628.37,66.58 L628.95,67.33 L629.53,68.10 L630.11,68.89 L630.69,69.68 L631.27,70.49 L631.85,71.31 L632.43,72.13 L633.01,72.96 L633.59,73.80 L634.17,74.63 L634.75,75.47 L635.33,76.31 L635.91,77.15 L636.49,77.98 L637.07,78.80 L637.65,79.62 L638.23,80.43 L638.81,81.23 L639.39,82.01 L639.97,82.78 L640.55,83.53 L641.13,84.27 L641.71,84.97 L642.29,85.66 L642.87,86.31 L643.45,86.93 L644.03,87.52 L644.61,88.07 L645.19,88.59 L645.77,89.06 L646.35,89.49 L646.93,89.87 L647.51,90.20 L648.09,90.48 L648.67,90.70 L649.25,90.87 L649.83,90.98 L650.41,91.04 L650.99,91.05 L651.57,91.01 L652.15,90.93 L652.73,90.81 L653.31,90.66 L653.89,90.48 L654.47,90.27 L655.05,90.04 L655.63,89.79 L656.21,89.52 L656.79,89.25 L657.37,88.96 L657.95,88.67 L658.53,88.39 L659.11,88.10 L659.69,87.82 L660.27,87.55 L660.85,87.29 L661.43,87.03 L662.02,86.78 L662.60,86.53 L663.18,86.29 L663.76,86.04 L664.34,85.80 L664.92,85.56 L665.50,85.31 L666.08,85.07 L666.66,84.84 L667.24,84.64 L667.82,84.49 L668.40,84.41 L668.98,84.42 L669.56,84.54 L670.14,84.77 L670.72,85.15 L671.30,85.69 L671.88,86.40 L672.46,87.30 L673.04,88.39 L673.62,89.64 L674.20,91.07 L674.78,92.65 L675.36,94.38 L675.94,96.25 L676.52,98.26 L677.10,100.39 L677.68,102.65 L678.26,105.01 L678.84,107.48 L679.42,110.05 L680.00,112.70" stroke="#77ac30" stroke-width="1.3" fill="none" clip-path="url(#cb)"/>
<path d="M390.50,128.70 L391.08,126.95 L391.66,125.31 L392.24,123.78 L392.82,122.36 L393.40,121.04 L393.98,119.81 L394.56,118.68 L395.14,117.64 L395.72,116.69 L396.30,115.81 L396.88,115.01 L397.46,114.29 L398.04,113.63 L398.62,113.03 L399.20,112.50 L399.78,112.02 L400.36,111.59 L400.94,111.20 L401.52,110.86 L402.10,110.56 L402.68,110.29 L403.26,110.05 L403.84,109.83 L404.42,109.64 L405.00,109.46 L405.58,109.29 L406.16,109.13 L406.74,108.98 L407.32,108.83 L407.90,108.67 L408.48,108.50 L409.07,108.31 L409.65,108.12 L410.23,107.90 L410.81,107.67 L411.39,107.42 L411.97,107.15 L412.55,106.87 L413.13,106.57 L413.71,106.26 L414.29,105.93 L414.87,105.60 L415.45,105.24 L416.03,104.88 L416.61,104.50 L417.19,104.12 L417.77,103.72 L418.35,103.31 L418.93,102.89 L419.51,102.46 L420.09,102.02 L420.67,101.57 L421.25,101.10 L421.83,100.62 L422.41,100.12 L422.99,99.61 L423.57,99.07 L424.15,98.50 L424.73,97.91 L425.31,97.29 L425.89,96.64 L426.47,95.95 L427.05,95.24 L427.63,94.48 L428.21,93.68 L428.79,92.85 L429.37,91.97 L429.95,91.05 L430.53,90.10 L431.11,89.11 L431.69,88.11 L432.27,87.07 L432.85,86.02 L433.43,84.96 L434.01,83.89 L434.59,82.81 L435.17,81.73 L435.75,80.66 L436.33,79.59 L436.91,78.54 L437.49,77.50 L438.07,76.48 L438.65,75.48 L439.23,74.51 L439.81,73.56 L440.39,72.63 L440.97,71.72 L441.55,70.83 L442.13,69.95 L442.71,69.09 L443.29,68.25 L443.87,67.41 L444.45,66.59 L445.04,65.78 L445.62,64.97 L446.20,64.18 L446.78,63.39 L447.36,62.60 L447.94,61.82 L448.52,61.04 L449.10,60.27 L449.68,59.50 L450.26,58.73 L450.84,57.97 L451.42,57.23 L452.00,56.50 L452.58,55.79 L453.16,55.09 L453.74,54.42 L454.32,53.77 L454.90,53.15 L455.48,52.56 L456.06,52.00 L456.64,51.47 L457.22,50.98 L457.80,50.53 L458.38,50.12 L458.96,49.75 L459.54,49.42 L460.12,49.13 L460.70,48.87 L461.28,48.65 L461.86,48.46 L462.44,48.31 L463.02,48.18 L463.60,48.09 L464.18,48.03 L464.76,47.99 L465.34,47.98 L465.92,48.00 L466.50,48.04 L467.08,48.10 L467.66,48.19 L468.24,48.30 L468.82,48.43 L469.40,48.58 L469.98,48.76 L470.56,48.95 L471.14,49.16 L471.72,49.39 L472.30,49.64 L472.88,49.91 L473.46,50.19 L474.04,50.49 L474.62,50.80 L475.20,51.13 L475.78,51.47 L476.36,51.82 L476.94,52.18 L477.52,52.54 L478.10,52.91 L478.68,53.27 L479.26,53.64 L479.84,54.00 L480.42,54.36 L481.01,54.71 L481.59,55.06 L482.17,55.39 L482.75,55.71 L483.33,56.03 L483.91,56.33 L484.49,56.62 L485.07,56.90 L485.65,57.18 L486.23,57.44 L486.81,57.69 L487.39,57.93 L487.97,58.16 L488.55,58.39 L489.13,58.60 L489.71,58.80 L490.29,59.00 L490.87,59.18 L491.45,59.36 L492.03,59.53 L492.61,59.68 L493.19,59.83 L493.77,59.97 L494.35,60.10 L494.93,60.22 L495.51,60.34 L496.09,60.44 L496.67,60.54 L497.25,60.62 L497.83,60.70 L498.41,60.77 L498.99,60.83 L499.57,60.88 L500.15,60.93 L500.73,60.96 L501.31,60.99 L501.89,61.01 L502.47,61.02 L503.05,61.02 L503.63,61.02 L504.21,61.00 L504.79,60.98 L505.37,60.95 L505.95,60.91 L506.53,60.86 L507.11,60.81 L507.69,60.74 L508.27,60.68 L508.85,60.60 L509.43,60.52 L510.01,60.43 L510.59,60.33 L511.17,60.23 L511.75,60.12 L512.33,60.00 L512.91,59.88 L513.49,59.75 L514.07,59.62 L514.65,59.48 L515.23,59.34 L515.81,59.19 L516.39,59.04 L516.97,58.88 L517.56,58.73 L518.14,58.57 L518.72,58.42 L519.30,58.27 L519.88,58.12 L520.46,57.98 L521.04,57.84 L521.62,57.71 L522.20,57.58 L522.78,57.46 L523.36,57.35 L523.94,57.26 L524.52,57.17 L525.10,57.10 L525.68,57.04 L526.26,56.99 L526.84,56.96 L527.42,56.95 L528.00,56.95 L528.58,56.96 L529.16,56.99 L529.74,57.03 L530.32,57.08 L530.90,57.15 L531.48,57.23 L532.06,57.32 L532.64,57.42 L533.22,57.53 L533.80,57.65 L534.38,57.78 L534.96,57.93 L535.54,58.08 L536.12,58.24 L536.70,58.41 L537.28,58.58 L537.86,58.77 L538.44,58.97 L539.02,59.17 L539.60,59.38 L540.18,59.60 L540.76,59.83 L541.34,60.06 L541.92,60.30 L542.50,60.55 L543.08,60.81 L543.66,61.07 L544.24,61.34 L544.82,61.62 L545.40,61.91 L545.98,62.20 L546.56,62.50 L547.14,62.80 L547.72,63.10 L548.30,63.42 L548.88,63.73 L549.46,64.05 L550.04,64.36 L550.62,64.68 L551.20,65.00 L551.78,65.32 L552.36,65.63 L552.94,65.95 L553.53,66.26 L554.11,66.57 L554.69,66.87 L555.27,67.17 L555.85,67.46 L556.43,67.74 L557.01,68.02 L557.59,68.29 L558.17,68.55 L558.75,68.81 L559.33,69.05 L559.91,69.28 L560.49,69.50 L561.07,69.71 L561.65,69.91 L562.23,70.10 L562.81,70.27 L563.39,70.43 L563.97,70.58 L564.55,70.71 L565.13,70.82 L565.71,70.92 L566.29,71.00 L566.87,71.07 L567.45,71.12 L568.03,71.15 L568.61,71.17 L569.19,71.17 L569.77,71.15 L570.35,71.12 L570.93,71.08 L571.51,71.02 L572.09,70.95 L572.67,70.87 L573.25,70.78 L573.83,70.67 L574.41,70.55 L574.99,70.42 L575.57,70.28 L576.15,70.13 L576.73,69.96 L577.31,69.79 L577.89,69.61 L578.47,69.42 L579.05,69.23 L579.63,69.02 L580.21,68.81 L580.79,68.59 L581.37,68.37 L581.95,68.14 L582.53,67.90 L583.11,67.67 L583.69,67.42 L584.27,67.17 L584.85,66.92 L585.43,66.67 L586.01,66.41 L586.59,66.16 L587.17,65.90 L587.75,65.64 L588.33,65.38 L588.91,65.12 L589.49,64.86 L590.08,64.60 L590.66,64.34 L591.24,64.08 L591.82,63.82 L592.40,63.57 L592.98,63.31 L593.56,63.06 L594.14,62.81 L594.72,62.56 L595.30,62.32 L595.88,62.07 L596.46,61.83 L597.04,61.60 L597.62,61.37 L598.20,61.14 L598.78,60.92 L599.36,60.70 L599.94,60.49 L600.52,60.28 L601.10,60.08 L601.68,59.88 L602.26,59.70 L602.84,59.51 L603.42,59.34 L604.00,59.17 L604.58,59.01 L605.16,58.86 L605.74,58.72 L606.32,58.59 L606.90,58.46 L607.48,58.35 L608.06,58.24 L608.64,58.15 L609.22,58.06 L609.80,57.99 L610.38,57.92 L610.96,57.87 L611.54,57.83 L612.12,57.80 L612.70,57.78 L613.28,57.77 L613.86,57.77 L614.44,57.77 L615.02,57.79 L615.60,57.81 L616.18,57.85 L616.76,57.89 L617.34,57.94 L617.92,58.00 L618.50,58.06 L619.08,58.13 L619.66,58.21 L620.24,58.29 L620.82,58.38 L621.40,58.48 L621.98,58.58 L622.56,58.69 L623.14,58.81 L623.72,58.92 L624.30,59.05 L624.88,59.17 L625.46,59.31 L626.05,59.44 L626.63,59.58 L627.21,59.72 L627.79,59.87 L628.37,60.02 L628.95,60.17 L629.53,60.32 L630.11,60.47 L630.69,60.63 L631.27,60.78 L631.85,60.94 L632.43,61.09 L633.01,61.24 L633.59,61.39 L634.17,61.54 L634.75,61.68 L635.33,61.82 L635.91,61.95 L636.49,62.08 L637.07,62.20 L637.65,62.32 L638.23,62.43 L638.81,62.53 L639.39,62.62 L639.97,62.71 L640.55,62.78 L641.13,62.85 L641.71,62.91 L642.29,62.96 L642.87,63.01 L643.45,63.04 L644.03,63.07 L644.61,63.09 L645.19,63.11 L645.77,63.11 L646.35,63.11 L646.93,63.10 L647.51,63.08 L648.09,63.05 L648.67,63.02 L649.25,62.98 L649.83,62.93 L650.41,62.88 L650.99,62.82 L651.57,62.76 L652.15,62.69 L652.73,62.62 L653.31,62.55 L653.89,62.48 L654.47,62.41 L655.05,62.35 L655.63,62.28 L656.21,62.22 L656.79,62.17 L657.37,62.11 L657.95,62.07 L658.53,62.03 L659.11,62.01 L659.69,61.99 L660.27,61.98 L660.85,61.99 L661.43,62.02 L662.02,62.07 L662.60,62.14 L663.18,62.24 L663.76,62.38 L664.34,62.54 L664.92,62.74 L665.50,62.99 L666.08,63.27 L666.66,63.61 L667.24,64.00 L667.82,64.45 L668.40,64.96 L668.98,65.55 L669.56,66.22 L670.14,66.97 L670.72,67.81 L671.30,68.74 L671.88,69.78 L672.46,70.92 L673.04,72.17 L673.62,73.54 L674.20,75.02 L674.78,76.63 L675.36,78.37 L675.94,80.25 L676.52,82.26 L677.10,84.42 L677.68,86.72 L678.26,89.18 L678.84,91.79 L679.42,94.56 L680.00,97.50" stroke="#0072bd" stroke-width="1.5" fill="none" clip-path="url(#cb)"/>
<path d="M390.50,175.45 L390.50,4.50 L680.00,4.50 L680.00,175.45" stroke="#262626" stroke-width="0.52" fill="none"/>
<line x1="390.50" y1="175.45" x2="680.00" y2="175.45" stroke="#262626" stroke-width="0.52" fill="none"/>
<line x1="431.86" y1="175.45" x2="431.86" y2="172.45" stroke="#262626" stroke-width="0.52" fill="none"/>
<line x1="431.86" y1="4.50" x2="431.86" y2="7.50" stroke="#262626" stroke-width="0.52" fill="none"/>
<line x1="473.21" y1="175.45" x2="473.21" y2="172.45" stroke="#262626" stroke-width="0.52" fill="none"/>
<line x1="473.21" y1="4.50" x2="473.21" y2="7.50" stroke="#262626" stroke-width="0.52" fill="none"/>
<line x1="514.57" y1="175.45" x2="514.57" y2="172.45" stroke="#262626" stroke-width="0.52" fill="none"/>
<line x1="514.57" y1="4.50" x2="514.57" y2="7.50" stroke="#262626" stroke-width="0.52" fill="none"/>
<line x1="555.93" y1="175.45" x2="555.93" y2="172.45" stroke="#262626" stroke-width="0.52" fill="none"/>
<line x1="555.93" y1="4.50" x2="555.93" y2="7.50" stroke="#262626" stroke-width="0.52" fill="none"/>
<line x1="597.29" y1="175.45" x2="597.29" y2="172.45" stroke="#262626" stroke-width="0.52" fill="none"/>
<line x1="597.29" y1="4.50" x2="597.29" y2="7.50" stroke="#262626" stroke-width="0.52" fill="none"/>
<line x1="638.64" y1="175.45" x2="638.64" y2="172.45" stroke="#262626" stroke-width="0.52" fill="none"/>
<line x1="638.64" y1="4.50" x2="638.64" y2="7.50" stroke="#262626" stroke-width="0.52" fill="none"/>
<line x1="390.50" y1="38.69" x2="393.50" y2="38.69" stroke="#262626" stroke-width="0.52" fill="none"/>
<line x1="680.00" y1="38.69" x2="677.00" y2="38.69" stroke="#262626" stroke-width="0.52" fill="none"/>
<line x1="390.50" y1="72.88" x2="393.50" y2="72.88" stroke="#262626" stroke-width="0.52" fill="none"/>
<line x1="680.00" y1="72.88" x2="677.00" y2="72.88" stroke="#262626" stroke-width="0.52" fill="none"/>
<line x1="390.50" y1="107.07" x2="393.50" y2="107.07" stroke="#262626" stroke-width="0.52" fill="none"/>
<line x1="680.00" y1="107.07" x2="677.00" y2="107.07" stroke="#262626" stroke-width="0.52" fill="none"/>
<line x1="390.50" y1="141.26" x2="393.50" y2="141.26" stroke="#262626" stroke-width="0.52" fill="none"/>
<line x1="680.00" y1="141.26" x2="677.00" y2="141.26" stroke="#262626" stroke-width="0.52" fill="none"/>
<text x="390.50" y="189.50" font-size="11.2" text-anchor="middle">26</text>
<text x="431.86" y="189.50" font-size="11.2" text-anchor="middle">28</text>
<text x="473.21" y="189.50" font-size="11.2" text-anchor="middle">30</text>
<text x="514.57" y="189.50" font-size="11.2" text-anchor="middle">32</text>
<text x="555.93" y="189.50" font-size="11.2" text-anchor="middle">34</text>
<text x="597.29" y="189.50" font-size="11.2" text-anchor="middle">36</text>
<text x="638.64" y="189.50" font-size="11.2" text-anchor="middle">38</text>
<text x="680.00" y="189.50" font-size="11.2" text-anchor="middle">40</text>
<text x="386.30" y="8.20" font-size="11.2" text-anchor="end">-11.8</text>
<text x="386.30" y="42.39" font-size="11.2" text-anchor="end">-12</text>
<text x="386.30" y="76.58" font-size="11.2" text-anchor="end">-12.2</text>
<text x="386.30" y="110.77" font-size="11.2" text-anchor="end">-12.4</text>
<text x="386.30" y="144.96" font-size="11.2" text-anchor="end">-12.6</text>
<text x="386.30" y="179.15" font-size="11.2" text-anchor="end">-12.8</text>
<text x="535.25" y="204.70" font-size="12.5" text-anchor="middle">Frequency (GHz)</text>
<text x="526.60" y="221.50" font-size="12.5" text-anchor="middle">(b)</text>
<text x="359.30" y="90.47" font-size="12.5" text-anchor="middle" transform="rotate(-90 359.30 90.47)">Transmission Coefficients (dB)</text>
<line x1="250.79" y1="250.50" x2="250.79" y2="417.50" stroke="#eaeaea" stroke-width="0.8"/>
<line x1="291.07" y1="250.50" x2="291.07" y2="417.50" stroke="#eaeaea" stroke-width="0.8"/>
<line x1="331.36" y1="250.50" x2="331.36" y2="417.50" stroke="#eaeaea" stroke-width="0.8"/>
<line x1="371.64" y1="250.50" x2="371.64" y2="417.50" stroke="#eaeaea" stroke-width="0.8"/>
<line x1="411.93" y1="250.50" x2="411.93" y2="417.50" stroke="#eaeaea" stroke-width="0.8"/>
<line x1="452.21" y1="250.50" x2="452.21" y2="417.50" stroke="#eaeaea" stroke-width="0.8"/>
<line x1="210.50" y1="271.38" x2="492.50" y2="271.38" stroke="#eaeaea" stroke-width="0.8"/>
<line x1="210.50" y1="292.25" x2="492.50" y2="292.25" stroke="#eaeaea" stroke-width="0.8"/>
<line x1="210.50" y1="313.12" x2="492.50" y2="313.12" stroke="#eaeaea" stroke-width="0.8"/>
<line x1="210.50" y1="334.00" x2="492.50" y2="334.00" stroke="#eaeaea" stroke-width="0.8"/>
<line x1="210.50" y1="354.88" x2="492.50" y2="354.88" stroke="#eaeaea" stroke-width="0.8"/>
<line x1="210.50" y1="375.75" x2="492.50" y2="375.75" stroke="#eaeaea" stroke-width="0.8"/>
<line x1="210.50" y1="396.62" x2="492.50" y2="396.62" stroke="#eaeaea" stroke-width="0.8"/>
<path d="M210.50,270.90 L268.50,417.50 L268.80,250.60 L345.80,417.50 L346.40,250.60 L430.60,417.50 L431.00,250.60 L492.50,374.20" stroke="#a2142f" stroke-width="1.45" fill="none" stroke-linejoin="miter"/>
<path d="M210.50,417.50 L210.50,250.50 L492.50,250.50 L492.50,417.50" stroke="#262626" stroke-width="0.52" fill="none"/>
<line x1="212.50" y1="425.50" x2="492.50" y2="425.50" stroke="#262626" stroke-width="0.52" fill="none"/>
<line x1="250.79" y1="417.50" x2="250.79" y2="414.50" stroke="#262626" stroke-width="0.52" fill="none"/>
<line x1="250.79" y1="250.50" x2="250.79" y2="253.50" stroke="#262626" stroke-width="0.52" fill="none"/>
<line x1="291.07" y1="417.50" x2="291.07" y2="414.50" stroke="#262626" stroke-width="0.52" fill="none"/>
<line x1="291.07" y1="250.50" x2="291.07" y2="253.50" stroke="#262626" stroke-width="0.52" fill="none"/>
<line x1="331.36" y1="417.50" x2="331.36" y2="414.50" stroke="#262626" stroke-width="0.52" fill="none"/>
<line x1="331.36" y1="250.50" x2="331.36" y2="253.50" stroke="#262626" stroke-width="0.52" fill="none"/>
<line x1="371.64" y1="417.50" x2="371.64" y2="414.50" stroke="#262626" stroke-width="0.52" fill="none"/>
<line x1="371.64" y1="250.50" x2="371.64" y2="253.50" stroke="#262626" stroke-width="0.52" fill="none"/>
<line x1="411.93" y1="417.50" x2="411.93" y2="414.50" stroke="#262626" stroke-width="0.52" fill="none"/>
<line x1="411.93" y1="250.50" x2="411.93" y2="253.50" stroke="#262626" stroke-width="0.52" fill="none"/>
<line x1="452.21" y1="417.50" x2="452.21" y2="414.50" stroke="#262626" stroke-width="0.52" fill="none"/>
<line x1="452.21" y1="250.50" x2="452.21" y2="253.50" stroke="#262626" stroke-width="0.52" fill="none"/>
<line x1="210.50" y1="271.38" x2="213.50" y2="271.38" stroke="#262626" stroke-width="0.52" fill="none"/>
<line x1="492.50" y1="271.38" x2="489.50" y2="271.38" stroke="#262626" stroke-width="0.52" fill="none"/>
<line x1="210.50" y1="292.25" x2="213.50" y2="292.25" stroke="#262626" stroke-width="0.52" fill="none"/>
<line x1="492.50" y1="292.25" x2="489.50" y2="292.25" stroke="#262626" stroke-width="0.52" fill="none"/>
<line x1="210.50" y1="313.12" x2="213.50" y2="313.12" stroke="#262626" stroke-width="0.52" fill="none"/>
<line x1="492.50" y1="313.12" x2="489.50" y2="313.12" stroke="#262626" stroke-width="0.52" fill="none"/>
<line x1="210.50" y1="334.00" x2="213.50" y2="334.00" stroke="#262626" stroke-width="0.52" fill="none"/>
<line x1="492.50" y1="334.00" x2="489.50" y2="334.00" stroke="#262626" stroke-width="0.52" fill="none"/>
<line x1="210.50" y1="354.88" x2="213.50" y2="354.88" stroke="#262626" stroke-width="0.52" fill="none"/>
<line x1="492.50" y1="354.88" x2="489.50" y2="354.88" stroke="#262626" stroke-width="0.52" fill="none"/>
<line x1="210.50" y1="375.75" x2="213.50" y2="375.75" stroke="#262626" stroke-width="0.52" fill="none"/>
<line x1="492.50" y1="375.75" x2="489.50" y2="375.75" stroke="#262626" stroke-width="0.52" fill="none"/>
<line x1="210.50" y1="396.62" x2="213.50" y2="396.62" stroke="#262626" stroke-width="0.52" fill="none"/>
<line x1="492.50" y1="396.62" x2="489.50" y2="396.62" stroke="#262626" stroke-width="0.52" fill="none"/>
<line x1="210.50" y1="417.50" x2="213.50" y2="417.50" stroke="#262626" stroke-width="0.52" fill="none"/>
<line x1="492.50" y1="417.50" x2="489.50" y2="417.50" stroke="#262626" stroke-width="0.52" fill="none"/>
<text x="210.50" y="431.00" font-size="11.2" text-anchor="middle">26</text>
<text x="250.79" y="431.00" font-size="11.2" text-anchor="middle">28</text>
<text x="291.07" y="431.00" font-size="11.2" text-anchor="middle">30</text>
<text x="331.36" y="431.00" font-size="11.2" text-anchor="middle">32</text>
<text x="371.64" y="431.00" font-size="11.2" text-anchor="middle">34</text>
<text x="411.93" y="431.00" font-size="11.2" text-anchor="middle">36</text>
<text x="452.21" y="431.00" font-size="11.2" text-anchor="middle">38</text>
<text x="492.50" y="431.00" font-size="11.2" text-anchor="middle">40</text>
<text x="206.20" y="254.20" font-size="11.2" text-anchor="end">-180</text>
<text x="206.20" y="275.07" font-size="11.2" text-anchor="end">-135</text>
<text x="206.20" y="295.95" font-size="11.2" text-anchor="end">-180</text>
<text x="206.20" y="316.82" font-size="11.2" text-anchor="end">-135</text>
<text x="206.20" y="337.70" font-size="11.2" text-anchor="end">-180</text>
<text x="206.20" y="358.57" font-size="11.2" text-anchor="end">-135</text>
<text x="206.20" y="379.45" font-size="11.2" text-anchor="end">-180</text>
<text x="206.20" y="400.32" font-size="11.2" text-anchor="end">-135</text>
<text x="206.20" y="421.20" font-size="11.2" text-anchor="end">-180</text>
<text x="351.40" y="446.30" font-size="12.2" text-anchor="middle">Frequency (GHz)</text>
<text x="346.40" y="465.50" font-size="12.5" text-anchor="middle">(c)</text>
<text x="181.20" y="334.00" font-size="12.3" text-anchor="middle" transform="rotate(-90 181.20 334.00)">Phase of Transmission Coefficients (<tspan font-size="9.5" dy="-5">o</tspan><tspan dy="5">)</tspan></text>
</svg>
</body></html>
